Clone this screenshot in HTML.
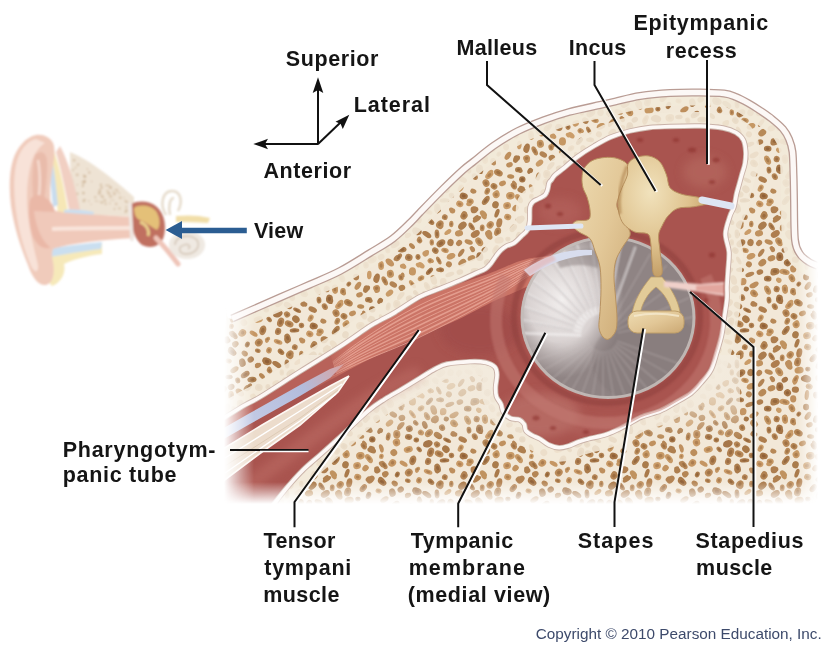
<!DOCTYPE html>
<html><head><meta charset="utf-8"><style>
html,body{margin:0;padding:0;background:#fff;}
body{width:825px;height:645px;overflow:hidden;position:relative;}
svg{position:absolute;left:0;top:0;font-family:"Liberation Sans",sans-serif;}
</style></head><body>
<svg width="825" height="645" viewBox="0 0 825 645">
<defs>
<pattern id="spong" width="150" height="130" patternUnits="userSpaceOnUse"><rect width="150" height="130" fill="#f2e8d8"/><g transform="translate(35.7 70.7) rotate(129)"><ellipse rx="4.9" ry="2.8" fill="#ae7f4f"/><ellipse cx="-2.1" cy="0.4" rx="3.5" ry="2.2" fill="#ae7f4f"/><ellipse rx="2.5" ry="1.4" fill="#8e6037" opacity="0.7"/></g><g transform="translate(46.1 64.7) rotate(157)"><ellipse rx="3.5" ry="3.5" fill="#c79965"/><ellipse cx="-1.4" cy="1.3" rx="2.5" ry="2.8" fill="#c79965"/><ellipse rx="1.8" ry="1.8" fill="#a37446" opacity="0.7"/></g><g transform="translate(23.4 61.1) rotate(23)"><ellipse rx="3.1" ry="2.2" fill="#b78857"/><ellipse cx="-0.5" cy="0.9" rx="2.2" ry="1.7" fill="#b78857"/></g><g transform="translate(45.5 74.8) rotate(103)"><ellipse rx="3.6" ry="3.3" fill="#aa7b4c"/><ellipse cx="-0.7" cy="0.3" rx="2.5" ry="2.7" fill="#aa7b4c"/></g><g transform="translate(33.4 84.0) rotate(45)"><ellipse rx="4.1" ry="2.8" fill="#c0925f"/><ellipse cx="2.4" cy="1.5" rx="2.9" ry="2.2" fill="#c0925f"/></g><g transform="translate(36.0 53.2) rotate(53)"><ellipse rx="3.9" ry="3.2" fill="#b88958"/><ellipse cx="-0.4" cy="-1.0" rx="2.7" ry="2.6" fill="#b88958"/><ellipse rx="1.9" ry="1.6" fill="#96683d" opacity="0.7"/></g><g transform="translate(26.9 89.3) rotate(146)"><ellipse rx="4.8" ry="2.2" fill="#b08050"/><ellipse cx="-0.1" cy="2.0" rx="3.4" ry="1.7" fill="#b08050"/></g><g transform="translate(40.2 94.9) rotate(128)"><ellipse rx="4.0" ry="3.3" fill="#c0915f"/><ellipse rx="2.0" ry="1.7" fill="#9d6e42" opacity="0.7"/></g><g transform="translate(24.0 79.8) rotate(80)"><ellipse rx="3.5" ry="3.4" fill="#ae7e4f"/><ellipse cx="-0.3" cy="-1.8" rx="2.5" ry="2.7" fill="#ae7e4f"/></g><g transform="translate(49.3 92.8) rotate(102)"><ellipse rx="4.7" ry="2.9" fill="#b38353"/><ellipse cx="-0.6" cy="0.3" rx="3.3" ry="2.3" fill="#b38353"/></g><g transform="translate(24.8 46.6) rotate(60)"><ellipse rx="3.5" ry="2.8" fill="#b58656"/><ellipse rx="1.8" ry="1.4" fill="#94653c" opacity="0.7"/></g><g transform="translate(29.4 38.8) rotate(97)"><ellipse rx="4.2" ry="3.4" fill="#a47446"/><ellipse cx="2.1" cy="-1.3" rx="3.0" ry="2.8" fill="#a47446"/><ellipse rx="2.1" ry="1.7" fill="#865831" opacity="0.7"/></g><g transform="translate(47.0 83.2) rotate(111)"><ellipse rx="4.6" ry="2.1" fill="#a9794a"/></g><g transform="translate(10.9 57.8) rotate(114)"><ellipse rx="3.4" ry="2.6" fill="#c99b67"/><ellipse cx="1.9" cy="0.5" rx="2.4" ry="2.1" fill="#c99b67"/><ellipse rx="1.7" ry="1.3" fill="#a47548" opacity="0.7"/></g><g transform="translate(52.5 53.4) rotate(156)"><ellipse rx="3.6" ry="2.5" fill="#c0915f"/></g><g transform="translate(32.2 97.8) rotate(94)"><ellipse rx="3.4" ry="2.4" fill="#bc8d5b"/><ellipse rx="1.7" ry="1.2" fill="#9a6b3f" opacity="0.7"/></g><g transform="translate(12.7 49.6) rotate(25)"><ellipse rx="4.5" ry="2.7" fill="#ad7d4e"/></g><g transform="translate(57.1 75.6) rotate(168)"><ellipse rx="3.9" ry="3.5" fill="#cb9d69"/><ellipse rx="2.0" ry="1.7" fill="#a67749" opacity="0.7"/></g><g transform="translate(19.0 40.1) rotate(83)"><ellipse rx="3.4" ry="2.4" fill="#b08151"/><ellipse rx="1.7" ry="1.2" fill="#906238" opacity="0.7"/></g><g transform="translate(63.8 56.0) rotate(141)"><ellipse rx="2.6" ry="3.7" fill="#b58656"/><ellipse cx="-2.2" cy="1.7" rx="1.8" ry="3.0" fill="#b58656"/><ellipse rx="1.3" ry="1.8" fill="#94653c" opacity="0.7"/></g><g transform="translate(12.3 95.7) rotate(135)"><ellipse rx="4.7" ry="3.3" fill="#ab7c4d"/><ellipse cx="-1.3" cy="-0.3" rx="3.3" ry="2.7" fill="#ab7c4d"/></g><g transform="translate(47.7 101.9) rotate(104)"><ellipse rx="4.5" ry="3.3" fill="#b88958"/><ellipse cx="0.8" cy="0.6" rx="3.2" ry="2.6" fill="#b88958"/><ellipse rx="2.3" ry="1.6" fill="#96683d" opacity="0.7"/></g><g transform="translate(60.4 65.8) rotate(170)"><ellipse rx="4.3" ry="3.7" fill="#c79966"/><ellipse cx="0.6" cy="0.8" rx="3.0" ry="2.9" fill="#c79966"/><ellipse rx="2.2" ry="1.8" fill="#a37447" opacity="0.7"/></g><g transform="translate(39.3 45.1) rotate(138)"><ellipse rx="4.8" ry="2.8" fill="#c99b68"/><ellipse cx="-2.4" cy="1.2" rx="3.4" ry="2.2" fill="#c99b68"/><ellipse rx="2.4" ry="1.4" fill="#a47548" opacity="0.7"/></g><g transform="translate(38.8 105.2) rotate(59)"><ellipse rx="4.9" ry="3.0" fill="#bd8f5d"/><ellipse cx="-1.5" cy="-1.6" rx="3.4" ry="2.4" fill="#bd8f5d"/></g><g transform="translate(65.4 78.1) rotate(128)"><ellipse rx="3.4" ry="2.8" fill="#c19260"/><ellipse cx="-0.9" cy="-0.7" rx="2.3" ry="2.2" fill="#c19260"/></g><g transform="translate(3.2 43.9) rotate(20)"><ellipse rx="2.8" ry="2.7" fill="#b18151"/><ellipse cx="2.3" cy="-0.1" rx="2.0" ry="2.1" fill="#b18151"/></g><g transform="translate(153.2 43.9) rotate(20)"><ellipse rx="2.8" ry="2.7" fill="#b18151"/><ellipse cx="2.3" cy="-0.1" rx="2.0" ry="2.1" fill="#b18151"/></g><g transform="translate(14.0 85.8) rotate(126)"><ellipse rx="3.9" ry="3.4" fill="#b28352"/><ellipse cx="-1.8" cy="1.0" rx="2.7" ry="2.7" fill="#b28352"/><ellipse rx="1.9" ry="1.7" fill="#916339" opacity="0.7"/></g><g transform="translate(25.3 104.0) rotate(148)"><ellipse rx="4.9" ry="3.1" fill="#ae7e4f"/></g><g transform="translate(68.9 68.3) rotate(48)"><ellipse rx="4.9" ry="2.7" fill="#c79966"/><ellipse cx="2.0" cy="0.6" rx="3.4" ry="2.2" fill="#c79966"/><ellipse rx="2.4" ry="1.4" fill="#a37447" opacity="0.7"/></g><g transform="translate(2.5 80.8) rotate(98)"><ellipse rx="2.7" ry="2.8" fill="#bd8e5d"/><ellipse cx="-1.2" cy="1.5" rx="1.9" ry="2.2" fill="#bd8e5d"/></g><g transform="translate(152.5 80.8) rotate(98)"><ellipse rx="2.7" ry="2.8" fill="#bd8e5d"/><ellipse cx="-1.2" cy="1.5" rx="1.9" ry="2.2" fill="#bd8e5d"/></g><g transform="translate(45.5 119.2) rotate(120)"><ellipse rx="4.6" ry="2.5" fill="#c49562"/><ellipse cx="2.3" cy="-1.1" rx="3.2" ry="2.0" fill="#c49562"/><ellipse rx="2.3" ry="1.2" fill="#a07144" opacity="0.7"/></g><g transform="translate(44.0 56.3) rotate(124)"><ellipse rx="3.1" ry="3.5" fill="#b48554"/><ellipse rx="1.6" ry="1.7" fill="#93653a" opacity="0.7"/></g><g transform="translate(29.2 111.8) rotate(54)"><ellipse rx="4.8" ry="3.3" fill="#c29461"/><ellipse rx="2.4" ry="1.7" fill="#9f7043" opacity="0.7"/></g><g transform="translate(70.7 89.6) rotate(134)"><ellipse rx="4.5" ry="3.1" fill="#b38454"/><ellipse cx="1.2" cy="1.9" rx="3.1" ry="2.5" fill="#b38454"/></g><g transform="translate(18.7 112.0) rotate(21)"><ellipse rx="4.3" ry="2.4" fill="#ba8b59"/></g><g transform="translate(9.8 74.1) rotate(16)"><ellipse rx="3.7" ry="2.9" fill="#ca9b68"/><ellipse cx="-0.9" cy="-1.0" rx="2.6" ry="2.3" fill="#ca9b68"/><ellipse rx="1.9" ry="1.5" fill="#a57548" opacity="0.7"/></g><g transform="translate(34.8 119.8) rotate(148)"><ellipse rx="3.4" ry="2.6" fill="#a67648"/></g><g transform="translate(57.9 109.1) rotate(180)"><ellipse rx="2.6" ry="2.4" fill="#b08050"/><ellipse rx="1.3" ry="1.2" fill="#906138" opacity="0.7"/></g><g transform="translate(1.3 94.0) rotate(94)"><ellipse rx="3.2" ry="2.2" fill="#bd8e5c"/><ellipse rx="1.6" ry="1.1" fill="#9a6b40" opacity="0.7"/></g><g transform="translate(151.3 94.0) rotate(94)"><ellipse rx="3.2" ry="2.2" fill="#bd8e5c"/><ellipse rx="1.6" ry="1.1" fill="#9a6b40" opacity="0.7"/></g><g transform="translate(1.5 65.4) rotate(167)"><ellipse rx="2.7" ry="2.7" fill="#b18252"/><ellipse rx="1.3" ry="1.3" fill="#916239" opacity="0.7"/></g><g transform="translate(151.5 65.4) rotate(167)"><ellipse rx="2.7" ry="2.7" fill="#b18252"/><ellipse rx="1.3" ry="1.3" fill="#916239" opacity="0.7"/></g><g transform="translate(37.3 61.3) rotate(114)"><ellipse rx="3.6" ry="2.6" fill="#bb8d5b"/><ellipse rx="1.8" ry="1.3" fill="#996b3f" opacity="0.7"/></g><g transform="translate(-2.9 50.3) rotate(26)"><ellipse rx="4.3" ry="2.0" fill="#ac7c4d"/><ellipse rx="2.2" ry="1.0" fill="#8d5e35" opacity="0.7"/></g><g transform="translate(147.1 50.3) rotate(26)"><ellipse rx="4.3" ry="2.0" fill="#ac7c4d"/><ellipse rx="2.2" ry="1.0" fill="#8d5e35" opacity="0.7"/></g><g transform="translate(57.7 87.0) rotate(107)"><ellipse rx="3.1" ry="3.6" fill="#c89a66"/><ellipse rx="1.5" ry="1.8" fill="#a47547" opacity="0.7"/></g><g transform="translate(-7.8 37.6) rotate(67)"><ellipse rx="3.3" ry="2.9" fill="#b48555"/><ellipse cx="-0.6" cy="0.9" rx="2.3" ry="2.3" fill="#b48555"/><ellipse rx="1.7" ry="1.4" fill="#93653b" opacity="0.7"/></g><g transform="translate(142.2 37.6) rotate(67)"><ellipse rx="3.3" ry="2.9" fill="#b48555"/><ellipse cx="-0.6" cy="0.9" rx="2.3" ry="2.3" fill="#b48555"/><ellipse rx="1.7" ry="1.4" fill="#93653b" opacity="0.7"/></g><g transform="translate(49.1 110.2) rotate(170)"><ellipse rx="4.6" ry="3.3" fill="#c59764"/></g><g transform="translate(20.2 71.6) rotate(90)"><ellipse rx="3.0" ry="3.5" fill="#c49663"/><ellipse cx="2.5" cy="1.2" rx="2.1" ry="2.8" fill="#c49663"/><ellipse rx="1.5" ry="1.8" fill="#a07245" opacity="0.7"/></g><g transform="translate(11.2 -7.2) rotate(125)"><ellipse rx="4.7" ry="2.1" fill="#b28353"/></g><g transform="translate(11.2 122.8) rotate(125)"><ellipse rx="4.7" ry="2.1" fill="#b28353"/></g><g transform="translate(29.9 -3.4) rotate(83)"><ellipse rx="4.4" ry="3.4" fill="#a67648"/><ellipse cx="1.1" cy="1.0" rx="3.0" ry="2.7" fill="#a67648"/><ellipse rx="2.2" ry="1.7" fill="#885932" opacity="0.7"/></g><g transform="translate(29.9 126.6) rotate(83)"><ellipse rx="4.4" ry="3.4" fill="#a67648"/><ellipse cx="1.1" cy="1.0" rx="3.0" ry="2.7" fill="#a67648"/><ellipse rx="2.2" ry="1.7" fill="#885932" opacity="0.7"/></g><g transform="translate(48.4 42.7) rotate(29)"><ellipse rx="4.6" ry="3.2" fill="#b48554"/><ellipse rx="2.3" ry="1.6" fill="#93653a" opacity="0.7"/></g><g transform="translate(77.3 80.6) rotate(71)"><ellipse rx="2.7" ry="3.2" fill="#ae7f4f"/><ellipse cx="-2.4" cy="-0.1" rx="1.9" ry="2.6" fill="#ae7f4f"/></g><g transform="translate(1.0 -3.7) rotate(158)"><ellipse rx="4.5" ry="2.9" fill="#c59764"/><ellipse cx="-0.5" cy="0.6" rx="3.1" ry="2.3" fill="#c59764"/></g><g transform="translate(1.0 126.3) rotate(158)"><ellipse rx="4.5" ry="2.9" fill="#c59764"/><ellipse cx="-0.5" cy="0.6" rx="3.1" ry="2.3" fill="#c59764"/></g><g transform="translate(151.0 -3.7) rotate(158)"><ellipse rx="4.5" ry="2.9" fill="#c59764"/><ellipse cx="-0.5" cy="0.6" rx="3.1" ry="2.3" fill="#c59764"/></g><g transform="translate(151.0 126.3) rotate(158)"><ellipse rx="4.5" ry="2.9" fill="#c59764"/><ellipse cx="-0.5" cy="0.6" rx="3.1" ry="2.3" fill="#c59764"/></g><g transform="translate(137.3 54.7) rotate(63)"><ellipse rx="2.8" ry="3.0" fill="#b68756"/><ellipse cx="-1.7" cy="0.5" rx="1.9" ry="2.4" fill="#b68756"/><ellipse rx="1.4" ry="1.5" fill="#95663c" opacity="0.7"/></g><g transform="translate(17.6 30.1) rotate(63)"><ellipse rx="4.9" ry="2.9" fill="#c49663"/><ellipse rx="2.5" ry="1.4" fill="#a07245" opacity="0.7"/></g><g transform="translate(45.4 -0.4) rotate(92)"><ellipse rx="3.2" ry="3.6" fill="#ad7d4e"/></g><g transform="translate(45.4 129.6) rotate(92)"><ellipse rx="3.2" ry="3.6" fill="#ad7d4e"/></g><g transform="translate(59.3 -3.5) rotate(108)"><ellipse rx="2.8" ry="3.6" fill="#c59764"/><ellipse rx="1.4" ry="1.8" fill="#a17246" opacity="0.7"/></g><g transform="translate(59.3 126.5) rotate(108)"><ellipse rx="2.8" ry="3.6" fill="#c59764"/><ellipse rx="1.4" ry="1.8" fill="#a17246" opacity="0.7"/></g><g transform="translate(60.7 46.5) rotate(9)"><ellipse rx="3.6" ry="2.2" fill="#b98b59"/></g><g transform="translate(130.6 62.3) rotate(111)"><ellipse rx="4.8" ry="3.3" fill="#b38454"/><ellipse rx="2.4" ry="1.7" fill="#92643a" opacity="0.7"/></g><g transform="translate(17.7 18.7) rotate(3)"><ellipse rx="3.8" ry="2.9" fill="#a8794a"/><ellipse rx="1.9" ry="1.5" fill="#895b33" opacity="0.7"/></g><g transform="translate(63.3 98.1) rotate(131)"><ellipse rx="4.5" ry="2.8" fill="#b68656"/><ellipse rx="2.3" ry="1.4" fill="#95653c" opacity="0.7"/></g><g transform="translate(9.1 113.0) rotate(42)"><ellipse rx="2.8" ry="3.3" fill="#b58555"/></g><g transform="translate(66.0 5.1) rotate(174)"><ellipse rx="2.8" ry="3.4" fill="#b98a59"/><ellipse cx="-0.2" cy="0.1" rx="1.9" ry="2.7" fill="#b98a59"/><ellipse rx="1.4" ry="1.7" fill="#97683e" opacity="0.7"/></g><g transform="translate(66.0 135.1) rotate(174)"><ellipse rx="2.8" ry="3.4" fill="#b98a59"/><ellipse cx="-0.2" cy="0.1" rx="1.9" ry="2.7" fill="#b98a59"/><ellipse rx="1.4" ry="1.7" fill="#97683e" opacity="0.7"/></g><g transform="translate(137.6 78.1) rotate(72)"><ellipse rx="4.6" ry="3.1" fill="#ab7b4c"/><ellipse cx="1.9" cy="1.4" rx="3.2" ry="2.5" fill="#ab7b4c"/><ellipse rx="2.3" ry="1.5" fill="#8c5d35" opacity="0.7"/></g><g transform="translate(-5.2 87.2) rotate(19)"><ellipse rx="2.9" ry="2.8" fill="#b68656"/><ellipse cx="0.1" cy="-0.4" rx="2.0" ry="2.2" fill="#b68656"/><ellipse rx="1.4" ry="1.4" fill="#95653c" opacity="0.7"/></g><g transform="translate(144.8 87.2) rotate(19)"><ellipse rx="2.9" ry="2.8" fill="#b68656"/><ellipse cx="0.1" cy="-0.4" rx="2.0" ry="2.2" fill="#b68656"/><ellipse rx="1.4" ry="1.4" fill="#95653c" opacity="0.7"/></g><g transform="translate(21.5 -1.8) rotate(159)"><ellipse rx="4.0" ry="2.9" fill="#ba8b59"/></g><g transform="translate(21.5 128.2) rotate(159)"><ellipse rx="4.0" ry="2.9" fill="#ba8b59"/></g><g transform="translate(-1.1 4.3) rotate(32)"><ellipse rx="3.0" ry="2.9" fill="#b88958"/></g><g transform="translate(-1.1 134.3) rotate(32)"><ellipse rx="3.0" ry="2.9" fill="#b88958"/></g><g transform="translate(148.9 4.3) rotate(32)"><ellipse rx="3.0" ry="2.9" fill="#b88958"/></g><g transform="translate(148.9 134.3) rotate(32)"><ellipse rx="3.0" ry="2.9" fill="#b88958"/></g><g transform="translate(4.1 24.9) rotate(154)"><ellipse rx="4.9" ry="2.5" fill="#bd8e5c"/><ellipse cx="0.5" cy="-0.8" rx="3.4" ry="2.0" fill="#bd8e5c"/></g><g transform="translate(154.1 24.9) rotate(154)"><ellipse rx="4.9" ry="2.5" fill="#bd8e5c"/><ellipse cx="0.5" cy="-0.8" rx="3.4" ry="2.0" fill="#bd8e5c"/></g><g transform="translate(-5.5 70.4) rotate(177)"><ellipse rx="4.8" ry="2.1" fill="#a8784a"/><ellipse cx="0.8" cy="0.2" rx="3.3" ry="1.6" fill="#a8784a"/><ellipse rx="2.4" ry="1.0" fill="#895b33" opacity="0.7"/></g><g transform="translate(144.5 70.4) rotate(177)"><ellipse rx="4.8" ry="2.1" fill="#a8784a"/><ellipse cx="0.8" cy="0.2" rx="3.3" ry="1.6" fill="#a8784a"/><ellipse rx="2.4" ry="1.0" fill="#895b33" opacity="0.7"/></g><g transform="translate(138.8 0.5) rotate(62)"><ellipse rx="4.3" ry="2.0" fill="#b78857"/><ellipse rx="2.1" ry="1.0" fill="#96673c" opacity="0.7"/></g><g transform="translate(138.8 130.5) rotate(62)"><ellipse rx="4.3" ry="2.0" fill="#b78857"/><ellipse rx="2.1" ry="1.0" fill="#96673c" opacity="0.7"/></g><g transform="translate(42.9 31.4) rotate(97)"><ellipse rx="3.3" ry="2.8" fill="#bb8d5b"/><ellipse cx="1.7" cy="-1.2" rx="2.3" ry="2.2" fill="#bb8d5b"/><ellipse rx="1.6" ry="1.4" fill="#996b3f" opacity="0.7"/></g><g transform="translate(128.1 71.4) rotate(14)"><ellipse rx="3.1" ry="3.6" fill="#b38353"/><ellipse rx="1.6" ry="1.8" fill="#92633a" opacity="0.7"/></g><g transform="translate(128.1 81.8) rotate(21)"><ellipse rx="4.5" ry="2.3" fill="#ca9c69"/><ellipse rx="2.2" ry="1.2" fill="#a57649" opacity="0.7"/></g><g transform="translate(13.8 65.9) rotate(18)"><ellipse rx="4.1" ry="3.1" fill="#a57547"/><ellipse cx="-0.9" cy="1.2" rx="2.9" ry="2.5" fill="#a57547"/><ellipse rx="2.0" ry="1.6" fill="#875831" opacity="0.7"/></g><g transform="translate(128.9 43.1) rotate(137)"><ellipse rx="4.5" ry="3.2" fill="#bc8e5c"/><ellipse cx="-0.1" cy="0.5" rx="3.1" ry="2.5" fill="#bc8e5c"/><ellipse rx="2.2" ry="1.6" fill="#9a6b40" opacity="0.7"/></g><g transform="translate(116.3 50.0) rotate(9)"><ellipse rx="2.8" ry="2.5" fill="#ad7e4e"/><ellipse rx="1.4" ry="1.2" fill="#8d5f36" opacity="0.7"/></g><g transform="translate(9.9 12.1) rotate(158)"><ellipse rx="3.4" ry="2.7" fill="#af7f4f"/></g><g transform="translate(82.1 91.9) rotate(38)"><ellipse rx="4.8" ry="3.1" fill="#a87849"/><ellipse cx="-1.8" cy="-1.2" rx="3.4" ry="2.4" fill="#a87849"/><ellipse rx="2.4" ry="1.5" fill="#895b33" opacity="0.7"/></g><g transform="translate(-4.1 59.2) rotate(46)"><ellipse rx="4.0" ry="3.4" fill="#a8794a"/></g><g transform="translate(145.9 59.2) rotate(46)"><ellipse rx="4.0" ry="3.4" fill="#a8794a"/></g><g transform="translate(34.9 29.3) rotate(81)"><ellipse rx="4.6" ry="3.0" fill="#c59764"/><ellipse cx="-1.4" cy="-0.6" rx="3.2" ry="2.4" fill="#c59764"/><ellipse rx="2.3" ry="1.5" fill="#a17246" opacity="0.7"/></g><g transform="translate(34.9 11.9) rotate(17)"><ellipse rx="4.9" ry="2.7" fill="#c69865"/><ellipse cx="-2.1" cy="0.7" rx="3.4" ry="2.2" fill="#c69865"/><ellipse rx="2.5" ry="1.4" fill="#a27346" opacity="0.7"/></g><g transform="translate(124.8 34.9) rotate(70)"><ellipse rx="4.1" ry="2.6" fill="#a8784a"/></g><g transform="translate(139.8 94.3) rotate(132)"><ellipse rx="4.2" ry="3.3" fill="#b58655"/><ellipse cx="0.9" cy="-1.9" rx="3.0" ry="2.6" fill="#b58655"/><ellipse rx="2.1" ry="1.6" fill="#94653b" opacity="0.7"/></g><g transform="translate(25.1 11.3) rotate(4)"><ellipse rx="4.5" ry="3.4" fill="#ac7d4d"/><ellipse cx="-1.4" cy="1.7" rx="3.2" ry="2.7" fill="#ac7d4d"/><ellipse rx="2.3" ry="1.7" fill="#8d5f35" opacity="0.7"/></g><g transform="translate(0.5 112.5) rotate(12)"><ellipse rx="3.2" ry="3.6" fill="#af8050"/></g><g transform="translate(150.5 112.5) rotate(12)"><ellipse rx="3.2" ry="3.6" fill="#af8050"/></g><g transform="translate(131.0 91.8) rotate(40)"><ellipse rx="3.7" ry="2.5" fill="#ad7e4e"/><ellipse rx="1.9" ry="1.3" fill="#8d5f36" opacity="0.7"/></g><g transform="translate(12.3 2.7) rotate(142)"><ellipse rx="4.3" ry="3.2" fill="#b88a58"/></g><g transform="translate(12.3 132.7) rotate(142)"><ellipse rx="4.3" ry="3.2" fill="#b88a58"/></g><g transform="translate(127.4 104.7) rotate(39)"><ellipse rx="4.5" ry="2.5" fill="#aa7a4b"/><ellipse cx="-2.4" cy="0.7" rx="3.2" ry="2.0" fill="#aa7a4b"/></g><g transform="translate(117.1 101.5) rotate(14)"><ellipse rx="4.7" ry="3.7" fill="#a67647"/><ellipse cx="-1.8" cy="-0.9" rx="3.3" ry="2.9" fill="#a67647"/><ellipse rx="2.3" ry="1.8" fill="#885931" opacity="0.7"/></g><g transform="translate(81.4 66.3) rotate(100)"><ellipse rx="2.6" ry="2.3" fill="#c99b67"/><ellipse rx="1.3" ry="1.1" fill="#a47548" opacity="0.7"/></g><g transform="translate(78.6 101.0) rotate(21)"><ellipse rx="3.1" ry="2.3" fill="#cb9d69"/><ellipse rx="1.6" ry="1.1" fill="#a67749" opacity="0.7"/></g><g transform="translate(117.5 79.2) rotate(150)"><ellipse rx="2.9" ry="2.0" fill="#c59764"/><ellipse cx="1.4" cy="-1.4" rx="2.0" ry="1.6" fill="#c59764"/><ellipse rx="1.4" ry="1.0" fill="#a17246" opacity="0.7"/></g><g transform="translate(139.1 63.8) rotate(24)"><ellipse rx="4.6" ry="3.1" fill="#b78857"/><ellipse rx="2.3" ry="1.5" fill="#96673c" opacity="0.7"/></g><g transform="translate(59.4 34.9) rotate(163)"><ellipse rx="3.3" ry="2.4" fill="#bc8d5b"/><ellipse cx="-1.1" cy="0.4" rx="2.3" ry="1.9" fill="#bc8d5b"/></g><g transform="translate(41.9 18.2) rotate(63)"><ellipse rx="4.2" ry="3.0" fill="#c29461"/><ellipse rx="2.1" ry="1.5" fill="#9f7043" opacity="0.7"/></g><g transform="translate(109.5 38.6) rotate(165)"><ellipse rx="3.3" ry="3.3" fill="#aa7a4b"/><ellipse cx="1.3" cy="0.2" rx="2.3" ry="2.6" fill="#aa7a4b"/><ellipse rx="1.7" ry="1.6" fill="#8b5c34" opacity="0.7"/></g><g transform="translate(81.1 5.5) rotate(87)"><ellipse rx="4.5" ry="2.9" fill="#c99b67"/><ellipse rx="2.3" ry="1.5" fill="#a47548" opacity="0.7"/></g><g transform="translate(81.1 135.5) rotate(87)"><ellipse rx="4.5" ry="2.9" fill="#c99b67"/><ellipse rx="2.3" ry="1.5" fill="#a47548" opacity="0.7"/></g><g transform="translate(56.7 118.7) rotate(24)"><ellipse rx="4.6" ry="3.5" fill="#a77749"/><ellipse cx="-2.4" cy="1.0" rx="3.2" ry="2.8" fill="#a77749"/></g><g transform="translate(129.5 11.2) rotate(133)"><ellipse rx="4.5" ry="2.3" fill="#a67648"/><ellipse rx="2.3" ry="1.1" fill="#885932" opacity="0.7"/></g><g transform="translate(-0.2 14.4) rotate(160)"><ellipse rx="4.6" ry="2.2" fill="#b48554"/></g><g transform="translate(149.8 14.4) rotate(160)"><ellipse rx="4.6" ry="2.2" fill="#b48554"/></g><g transform="translate(140.9 9.8) rotate(12)"><ellipse rx="3.2" ry="2.4" fill="#af8050"/><ellipse cx="-2.4" cy="0.6" rx="2.3" ry="1.9" fill="#af8050"/><ellipse rx="1.6" ry="1.2" fill="#8f6138" opacity="0.7"/></g><g transform="translate(56.9 5.0) rotate(96)"><ellipse rx="5.0" ry="2.2" fill="#c49563"/></g><g transform="translate(56.9 135.0) rotate(96)"><ellipse rx="5.0" ry="2.2" fill="#c49563"/></g><g transform="translate(100.8 36.0) rotate(132)"><ellipse rx="4.9" ry="2.2" fill="#b68656"/><ellipse cx="-0.3" cy="0.9" rx="3.4" ry="1.8" fill="#b68656"/></g><g transform="translate(81.3 57.8) rotate(69)"><ellipse rx="3.7" ry="2.1" fill="#bf905e"/><ellipse cx="2.3" cy="0.5" rx="2.6" ry="1.7" fill="#bf905e"/></g><g transform="translate(130.2 0.7) rotate(139)"><ellipse rx="2.6" ry="2.6" fill="#c59764"/><ellipse cx="-1.1" cy="-1.4" rx="1.8" ry="2.1" fill="#c59764"/><ellipse rx="1.3" ry="1.3" fill="#a17246" opacity="0.7"/></g><g transform="translate(130.2 130.7) rotate(139)"><ellipse rx="2.6" ry="2.6" fill="#c59764"/><ellipse cx="-1.1" cy="-1.4" rx="1.8" ry="2.1" fill="#c59764"/><ellipse rx="1.3" ry="1.3" fill="#a17246" opacity="0.7"/></g><g transform="translate(93.8 62.6) rotate(141)"><ellipse rx="3.4" ry="3.4" fill="#bc8e5c"/></g><g transform="translate(127.8 53.8) rotate(161)"><ellipse rx="4.9" ry="3.6" fill="#a67648"/></g><g transform="translate(72.3 49.4) rotate(3)"><ellipse rx="3.2" ry="3.1" fill="#a47446"/><ellipse rx="1.6" ry="1.6" fill="#865831" opacity="0.7"/></g><g transform="translate(133.7 20.0) rotate(72)"><ellipse rx="4.9" ry="3.1" fill="#b88958"/></g><g transform="translate(28.8 20.1) rotate(32)"><ellipse rx="2.9" ry="2.4" fill="#ca9c68"/><ellipse cx="0.4" cy="0.6" rx="2.0" ry="1.9" fill="#ca9c68"/></g><g transform="translate(108.3 59.5) rotate(167)"><ellipse rx="4.6" ry="3.2" fill="#cb9d69"/><ellipse rx="2.3" ry="1.6" fill="#a67749" opacity="0.7"/></g><g transform="translate(134.8 29.1) rotate(138)"><ellipse rx="4.4" ry="3.0" fill="#b18151"/><ellipse cx="0.2" cy="-1.8" rx="3.1" ry="2.4" fill="#b18151"/></g><g transform="translate(127.1 26.1) rotate(59)"><ellipse rx="4.4" ry="2.5" fill="#be905e"/><ellipse cx="0.2" cy="0.8" rx="3.1" ry="2.0" fill="#be905e"/><ellipse rx="2.2" ry="1.3" fill="#9b6d41" opacity="0.7"/></g><g transform="translate(92.6 72.7) rotate(126)"><ellipse rx="3.6" ry="3.5" fill="#c69764"/><ellipse cx="2.0" cy="0.5" rx="2.5" ry="2.8" fill="#c69764"/><ellipse rx="1.8" ry="1.7" fill="#a27246" opacity="0.7"/></g><g transform="translate(68.5 105.5) rotate(109)"><ellipse rx="3.7" ry="2.6" fill="#a97a4b"/><ellipse rx="1.9" ry="1.3" fill="#8a5c34" opacity="0.7"/></g><g transform="translate(119.2 59.4) rotate(49)"><ellipse rx="3.2" ry="2.2" fill="#b18252"/><ellipse rx="1.6" ry="1.1" fill="#916239" opacity="0.7"/></g><g transform="translate(103.6 73.7) rotate(30)"><ellipse rx="4.4" ry="2.2" fill="#c59663"/></g><g transform="translate(37.5 2.8) rotate(50)"><ellipse rx="3.5" ry="3.5" fill="#a77748"/><ellipse rx="1.7" ry="1.7" fill="#885a32" opacity="0.7"/></g><g transform="translate(37.5 132.8) rotate(50)"><ellipse rx="3.5" ry="3.5" fill="#a77748"/><ellipse rx="1.7" ry="1.7" fill="#885a32" opacity="0.7"/></g><g transform="translate(4.2 33.3) rotate(46)"><ellipse rx="4.2" ry="3.1" fill="#c19360"/><ellipse cx="-0.5" cy="1.1" rx="3.0" ry="2.5" fill="#c19360"/><ellipse rx="2.1" ry="1.5" fill="#9e6f43" opacity="0.7"/></g><g transform="translate(154.2 33.3) rotate(46)"><ellipse rx="4.2" ry="3.1" fill="#c19360"/><ellipse cx="-0.5" cy="1.1" rx="3.0" ry="2.5" fill="#c19360"/><ellipse rx="2.1" ry="1.5" fill="#9e6f43" opacity="0.7"/></g><g transform="translate(57.9 25.8) rotate(123)"><ellipse rx="4.5" ry="2.6" fill="#be8f5d"/></g><g transform="translate(-5.0 120.4) rotate(16)"><ellipse rx="3.8" ry="2.5" fill="#c59764"/><ellipse rx="1.9" ry="1.2" fill="#a17246" opacity="0.7"/></g><g transform="translate(145.0 120.4) rotate(16)"><ellipse rx="3.8" ry="2.5" fill="#c59764"/><ellipse rx="1.9" ry="1.2" fill="#a17246" opacity="0.7"/></g><g transform="translate(119.0 90.3) rotate(15)"><ellipse rx="2.8" ry="3.2" fill="#c69764"/><ellipse rx="1.4" ry="1.6" fill="#a27246" opacity="0.7"/></g><g transform="translate(43.2 8.9) rotate(88)"><ellipse rx="3.6" ry="3.1" fill="#bf905e"/></g><g transform="translate(65.9 29.1) rotate(105)"><ellipse rx="3.8" ry="2.7" fill="#ab7b4c"/><ellipse cx="-1.4" cy="-1.6" rx="2.7" ry="2.2" fill="#ab7b4c"/></g><g transform="translate(112.8 70.3) rotate(107)"><ellipse rx="5.0" ry="3.4" fill="#b18252"/><ellipse rx="2.5" ry="1.7" fill="#916239" opacity="0.7"/></g><g transform="translate(94.7 93.5) rotate(35)"><ellipse rx="3.3" ry="2.6" fill="#b68756"/></g><g transform="translate(85.3 83.9) rotate(162)"><ellipse rx="3.4" ry="2.8" fill="#b58655"/><ellipse cx="0.6" cy="-1.3" rx="2.4" ry="2.2" fill="#b58655"/></g><g transform="translate(121.0 18.3) rotate(145)"><ellipse rx="3.5" ry="2.6" fill="#c59764"/><ellipse rx="1.8" ry="1.3" fill="#a17246" opacity="0.7"/></g><g transform="translate(68.5 39.7) rotate(176)"><ellipse rx="3.5" ry="2.6" fill="#ad7e4e"/><ellipse cx="-1.8" cy="-1.3" rx="2.4" ry="2.1" fill="#ad7e4e"/><ellipse rx="1.7" ry="1.3" fill="#8d5f36" opacity="0.7"/></g><g transform="translate(112.5 11.4) rotate(88)"><ellipse rx="4.2" ry="3.5" fill="#c59764"/><ellipse cx="0.4" cy="0.8" rx="2.9" ry="2.8" fill="#c59764"/></g><g transform="translate(107.8 90.7) rotate(19)"><ellipse rx="2.9" ry="2.1" fill="#b78857"/><ellipse rx="1.5" ry="1.1" fill="#96673c" opacity="0.7"/></g><g transform="translate(131.8 112.4) rotate(88)"><ellipse rx="3.2" ry="2.2" fill="#c19260"/><ellipse rx="1.6" ry="1.1" fill="#9e6e43" opacity="0.7"/></g><g transform="translate(88.2 46.5) rotate(101)"><ellipse rx="4.1" ry="2.3" fill="#b78857"/><ellipse rx="2.1" ry="1.1" fill="#96673c" opacity="0.7"/></g><g transform="translate(97.3 84.5) rotate(115)"><ellipse rx="3.0" ry="2.3" fill="#a8794a"/><ellipse rx="1.5" ry="1.2" fill="#895b33" opacity="0.7"/></g><g transform="translate(96.5 52.6) rotate(59)"><ellipse rx="3.8" ry="3.6" fill="#ca9c69"/><ellipse cx="-1.0" cy="-1.2" rx="2.7" ry="2.9" fill="#ca9c69"/><ellipse rx="1.9" ry="1.8" fill="#a57649" opacity="0.7"/></g><g transform="translate(69.8 118.0) rotate(0)"><ellipse rx="4.3" ry="3.7" fill="#c69764"/><ellipse cx="1.2" cy="-0.8" rx="3.0" ry="2.9" fill="#c69764"/><ellipse rx="2.1" ry="1.8" fill="#a27246" opacity="0.7"/></g><g transform="translate(69.3 14.7) rotate(91)"><ellipse rx="3.9" ry="2.3" fill="#ca9c69"/><ellipse cx="1.8" cy="0.1" rx="2.8" ry="1.8" fill="#ca9c69"/></g><g transform="translate(108.0 105.5) rotate(149)"><ellipse rx="3.3" ry="2.3" fill="#b88958"/><ellipse cx="0.4" cy="1.1" rx="2.3" ry="1.8" fill="#b88958"/></g><g transform="translate(76.6 28.3) rotate(73)"><ellipse rx="3.2" ry="3.5" fill="#be8f5d"/><ellipse cx="2.3" cy="0.2" rx="2.2" ry="2.8" fill="#be8f5d"/><ellipse rx="1.6" ry="1.8" fill="#9b6c41" opacity="0.7"/></g><g transform="translate(112.4 24.2) rotate(52)"><ellipse rx="4.8" ry="2.1" fill="#c99b67"/><ellipse rx="2.4" ry="1.1" fill="#a47548" opacity="0.7"/></g><g transform="translate(95.2 114.6) rotate(148)"><ellipse rx="4.8" ry="2.9" fill="#a9794b"/><ellipse rx="2.4" ry="1.4" fill="#8a5b34" opacity="0.7"/></g><g transform="translate(9.0 103.3) rotate(168)"><ellipse rx="4.1" ry="3.1" fill="#c0925f"/></g><g transform="translate(-2.2 102.1) rotate(144)"><ellipse rx="3.9" ry="2.1" fill="#ca9c68"/><ellipse cx="-1.0" cy="-0.3" rx="2.7" ry="1.7" fill="#ca9c68"/></g><g transform="translate(147.8 102.1) rotate(144)"><ellipse rx="3.9" ry="2.1" fill="#ca9c68"/><ellipse cx="-1.0" cy="-0.3" rx="2.7" ry="1.7" fill="#ca9c68"/></g><g transform="translate(72.2 -0.3) rotate(151)"><ellipse rx="4.9" ry="3.5" fill="#ca9c68"/><ellipse rx="2.4" ry="1.8" fill="#a57648" opacity="0.7"/></g><g transform="translate(72.2 129.7) rotate(151)"><ellipse rx="4.9" ry="3.5" fill="#ca9c68"/><ellipse rx="2.4" ry="1.8" fill="#a57648" opacity="0.7"/></g><g transform="translate(89.5 33.1) rotate(142)"><ellipse rx="4.2" ry="2.7" fill="#c99b68"/></g><g transform="translate(108.6 46.9) rotate(11)"><ellipse rx="3.7" ry="2.9" fill="#ab7b4c"/><ellipse rx="1.9" ry="1.5" fill="#8c5d35" opacity="0.7"/></g><g transform="translate(78.9 117.0) rotate(175)"><ellipse rx="3.8" ry="2.3" fill="#ae7e4f"/><ellipse rx="1.9" ry="1.1" fill="#8e5f37" opacity="0.7"/></g><g transform="translate(137.0 104.0) rotate(86)"><ellipse rx="4.5" ry="2.4" fill="#b38454"/><ellipse rx="2.3" ry="1.2" fill="#92643a" opacity="0.7"/></g><g transform="translate(120.6 42.3) rotate(41)"><ellipse rx="2.6" ry="2.8" fill="#c49562"/><ellipse cx="1.8" cy="-0.3" rx="1.8" ry="2.2" fill="#c49562"/><ellipse rx="1.3" ry="1.4" fill="#a07144" opacity="0.7"/></g><g transform="translate(56.1 17.1) rotate(90)"><ellipse rx="3.3" ry="3.0" fill="#b18252"/></g><g transform="translate(81.1 -3.1) rotate(148)"><ellipse rx="3.5" ry="2.9" fill="#ae7e4f"/><ellipse cx="0.1" cy="-0.4" rx="2.4" ry="2.3" fill="#ae7e4f"/></g><g transform="translate(81.1 126.9) rotate(148)"><ellipse rx="3.5" ry="2.9" fill="#ae7e4f"/><ellipse cx="0.1" cy="-0.4" rx="2.4" ry="2.3" fill="#ae7e4f"/></g><g transform="translate(26.7 29.1) rotate(99)"><ellipse rx="3.2" ry="3.1" fill="#b38353"/><ellipse rx="1.6" ry="1.5" fill="#92633a" opacity="0.7"/></g><g transform="translate(79.7 40.8) rotate(118)"><ellipse rx="3.2" ry="2.1" fill="#a9794a"/><ellipse cx="-0.7" cy="-1.4" rx="2.3" ry="1.7" fill="#a9794a"/></g><g transform="translate(96.8 44.2) rotate(87)"><ellipse rx="4.2" ry="3.6" fill="#c19260"/><ellipse rx="2.1" ry="1.8" fill="#9e6e43" opacity="0.7"/></g><g transform="translate(-6.8 21.4) rotate(96)"><ellipse rx="3.5" ry="3.3" fill="#c49563"/><ellipse cx="1.6" cy="0.4" rx="2.4" ry="2.6" fill="#c49563"/></g><g transform="translate(143.2 21.4) rotate(96)"><ellipse rx="3.5" ry="3.3" fill="#c49563"/><ellipse cx="1.6" cy="0.4" rx="2.4" ry="2.6" fill="#c49563"/></g><g transform="translate(21.7 96.5) rotate(56)"><ellipse rx="4.5" ry="2.1" fill="#b08050"/><ellipse cx="-0.2" cy="0.9" rx="3.1" ry="1.7" fill="#b08050"/><ellipse rx="2.2" ry="1.0" fill="#906138" opacity="0.7"/></g><g transform="translate(22.7 119.5) rotate(71)"><ellipse rx="2.7" ry="2.3" fill="#b58555"/><ellipse cx="-1.9" cy="0.7" rx="1.9" ry="1.9" fill="#b58555"/></g><g transform="translate(92.4 102.4) rotate(72)"><ellipse rx="4.1" ry="3.2" fill="#a77849"/><ellipse cx="1.5" cy="0.9" rx="2.8" ry="2.5" fill="#a77849"/></g><g transform="translate(84.7 20.9) rotate(62)"><ellipse rx="4.9" ry="2.5" fill="#b98a58"/><ellipse cx="-0.3" cy="-0.0" rx="3.5" ry="2.0" fill="#b98a58"/><ellipse rx="2.5" ry="1.2" fill="#97683d" opacity="0.7"/></g><g transform="translate(98.6 -2.7) rotate(128)"><ellipse rx="4.6" ry="2.4" fill="#af8050"/><ellipse cx="2.0" cy="1.5" rx="3.2" ry="1.9" fill="#af8050"/><ellipse rx="2.3" ry="1.2" fill="#8f6138" opacity="0.7"/></g><g transform="translate(98.6 127.3) rotate(128)"><ellipse rx="4.6" ry="2.4" fill="#af8050"/><ellipse cx="2.0" cy="1.5" rx="3.2" ry="1.9" fill="#af8050"/><ellipse rx="2.3" ry="1.2" fill="#8f6138" opacity="0.7"/></g><g transform="translate(100.7 99.5) rotate(150)"><ellipse rx="3.3" ry="3.0" fill="#ae7e4f"/></g><g transform="translate(108.8 -2.6) rotate(14)"><ellipse rx="3.8" ry="3.5" fill="#b18252"/><ellipse rx="1.9" ry="1.8" fill="#916239" opacity="0.7"/></g><g transform="translate(108.8 127.4) rotate(14)"><ellipse rx="3.8" ry="3.5" fill="#b18252"/><ellipse rx="1.9" ry="1.8" fill="#916239" opacity="0.7"/></g><g transform="translate(48.8 24.1) rotate(126)"><ellipse rx="2.7" ry="2.1" fill="#b38454"/><ellipse rx="1.3" ry="1.1" fill="#92643a" opacity="0.7"/></g><g transform="translate(118.0 -3.0) rotate(175)"><ellipse rx="2.6" ry="2.9" fill="#b38453"/><ellipse rx="1.3" ry="1.5" fill="#92643a" opacity="0.7"/></g><g transform="translate(118.0 127.0) rotate(175)"><ellipse rx="2.6" ry="2.9" fill="#b38453"/><ellipse rx="1.3" ry="1.5" fill="#92643a" opacity="0.7"/></g><g transform="translate(76.9 18.2) rotate(102)"><ellipse rx="4.8" ry="2.8" fill="#aa7a4b"/><ellipse cx="0.8" cy="1.1" rx="3.4" ry="2.3" fill="#aa7a4b"/></g><g transform="translate(121.1 5.3) rotate(39)"><ellipse rx="3.9" ry="2.5" fill="#cb9d69"/><ellipse cx="-2.4" cy="1.7" rx="2.7" ry="2.0" fill="#cb9d69"/></g><g transform="translate(121.1 135.3) rotate(39)"><ellipse rx="3.9" ry="2.5" fill="#cb9d69"/><ellipse cx="-2.4" cy="1.7" rx="2.7" ry="2.0" fill="#cb9d69"/></g><g transform="translate(89.8 2.5) rotate(42)"><ellipse rx="5.0" ry="3.1" fill="#c39462"/></g><g transform="translate(89.8 132.5) rotate(42)"><ellipse rx="5.0" ry="3.1" fill="#c39462"/></g><g transform="translate(125.6 -6.5) rotate(61)"><ellipse rx="2.9" ry="3.2" fill="#c79966"/><ellipse cx="-0.5" cy="-1.6" rx="2.0" ry="2.5" fill="#c79966"/></g><g transform="translate(125.6 123.5) rotate(61)"><ellipse rx="2.9" ry="3.2" fill="#c79966"/><ellipse cx="-0.5" cy="-1.6" rx="2.0" ry="2.5" fill="#c79966"/></g><g transform="translate(138.0 45.4) rotate(33)"><ellipse rx="4.6" ry="3.0" fill="#af8050"/></g><g transform="translate(140.9 113.3) rotate(145)"><ellipse rx="4.8" ry="3.3" fill="#ac7d4e"/><ellipse rx="2.4" ry="1.7" fill="#8d5f36" opacity="0.7"/></g><g transform="translate(93.3 24.5) rotate(29)"><ellipse rx="4.0" ry="2.7" fill="#b28353"/></g><g transform="translate(102.8 6.1) rotate(166)"><ellipse rx="2.9" ry="2.4" fill="#c79966"/><ellipse cx="-1.3" cy="-1.3" rx="2.0" ry="1.9" fill="#c79966"/></g><g transform="translate(102.8 136.1) rotate(166)"><ellipse rx="2.9" ry="2.4" fill="#c79966"/><ellipse cx="-1.3" cy="-1.3" rx="2.0" ry="1.9" fill="#c79966"/></g><g transform="translate(101.9 27.8) rotate(68)"><ellipse rx="2.9" ry="3.4" fill="#b28353"/><ellipse cx="1.2" cy="-0.1" rx="2.0" ry="2.7" fill="#b28353"/></g><g transform="translate(90.4 13.8) rotate(76)"><ellipse rx="4.0" ry="3.5" fill="#c39562"/><ellipse cx="0.4" cy="0.7" rx="2.8" ry="2.8" fill="#c39562"/><ellipse rx="2.0" ry="1.8" fill="#9f7144" opacity="0.7"/></g><g transform="translate(101.0 17.4) rotate(166)"><ellipse rx="2.6" ry="3.2" fill="#b98a59"/><ellipse cx="-2.3" cy="1.9" rx="1.8" ry="2.6" fill="#b98a59"/><ellipse rx="1.3" ry="1.6" fill="#97683e" opacity="0.7"/></g><g transform="translate(-3.7 29.0) rotate(25)"><ellipse rx="2.6" ry="2.4" fill="#a57647"/></g><g transform="translate(146.3 29.0) rotate(25)"><ellipse rx="2.6" ry="2.4" fill="#a57647"/></g><g transform="translate(115.8 32.9) rotate(44)"><ellipse rx="3.1" ry="2.1" fill="#b08151"/><ellipse cx="-0.7" cy="0.5" rx="2.2" ry="1.7" fill="#b08151"/><ellipse rx="1.6" ry="1.1" fill="#906238" opacity="0.7"/></g><g transform="translate(119.5 110.6) rotate(44)"><ellipse rx="2.9" ry="2.5" fill="#b78857"/><ellipse cx="-1.5" cy="-1.3" rx="2.0" ry="2.0" fill="#b78857"/><ellipse rx="1.4" ry="1.2" fill="#96673c" opacity="0.7"/></g><g transform="translate(112.0 116.0) rotate(46)"><ellipse rx="3.5" ry="2.2" fill="#b78857"/></g><g transform="translate(84.0 75.0) rotate(53)"><ellipse rx="4.8" ry="2.5" fill="#b48555"/><ellipse cx="-2.0" cy="1.6" rx="3.4" ry="2.0" fill="#b48555"/><ellipse rx="2.4" ry="1.3" fill="#93653b" opacity="0.7"/></g><g transform="translate(135.3 120.6) rotate(127)"><ellipse rx="2.9" ry="3.5" fill="#af8050"/><ellipse rx="1.5" ry="1.7" fill="#8f6138" opacity="0.7"/></g><g transform="translate(102.2 119.6) rotate(176)"><ellipse rx="4.3" ry="2.8" fill="#aa7b4c"/><ellipse cx="1.9" cy="0.0" rx="3.0" ry="2.3" fill="#aa7b4c"/><ellipse rx="2.1" ry="1.4" fill="#8b5d35" opacity="0.7"/></g><g transform="translate(108.8 82.5) rotate(133)"><ellipse rx="4.0" ry="3.7" fill="#ba8b5a"/><ellipse rx="2.0" ry="1.8" fill="#98693e" opacity="0.7"/></g><g transform="translate(84.4 109.7) rotate(148)"><ellipse rx="4.5" ry="2.6" fill="#bd8e5c"/></g><g transform="translate(87.7 120.4) rotate(78)"><ellipse rx="3.0" ry="2.5" fill="#b98a59"/><ellipse rx="1.5" ry="1.3" fill="#97683e" opacity="0.7"/></g><g transform="translate(71.7 60.3) rotate(21)"><ellipse rx="4.5" ry="2.7" fill="#ae7f4f"/><ellipse cx="-0.6" cy="-2.0" rx="3.1" ry="2.2" fill="#ae7f4f"/></g></pattern><filter id="sb" x="0" y="0" width="100%" height="100%"><feGaussianBlur stdDeviation="0.6"/></filter>
<filter id="spongy" x="0" y="0" width="100%" height="100%" filterUnits="objectBoundingBox" color-interpolation-filters="sRGB">
<feTurbulence type="fractalNoise" baseFrequency="0.165" numOctaves="1" seed="5" result="n"/>
<feColorMatrix in="n" type="matrix" values="0 0 0 0 0  0 0 0 0 0  0 0 0 0 0  1 0 0 0 0" result="a"/>
<feComponentTransfer in="a" result="th1"><feFuncA type="linear" slope="16" intercept="-8.72"/></feComponentTransfer>
<feComponentTransfer in="a" result="th2"><feFuncA type="linear" slope="16" intercept="-9.20"/></feComponentTransfer>
<feComponentTransfer in="a" result="th3"><feFuncA type="linear" slope="16" intercept="-10.00"/></feComponentTransfer>
<feFlood flood-color="#dcbd95" result="c1"/><feComposite in="c1" in2="th1" operator="in" result="s1"/>
<feFlood flood-color="#c39462" result="c2"/><feComposite in="c2" in2="th2" operator="in" result="s2"/>
<feFlood flood-color="#a8753f" result="c3"/><feComposite in="c3" in2="th3" operator="in" result="s3"/>
<feMerge result="sp"><feMergeNode in="s1"/><feMergeNode in="s2"/><feMergeNode in="s3"/></feMerge>
<feGaussianBlur in="sp" stdDeviation="0.7" result="spb"/>
<feFlood flood-color="#f2e8d8" result="bg"/>
<feMerge result="m"><feMergeNode in="bg"/><feMergeNode in="spb"/></feMerge>
<feComposite in="m" in2="SourceAlpha" operator="in"/></filter>
<filter id="blur4" x="-50%" y="-50%" width="200%" height="200%"><feGaussianBlur stdDeviation="5"/></filter>
<filter id="soft" x="-10%" y="-10%" width="120%" height="120%"><feGaussianBlur stdDeviation="1"/></filter>
<linearGradient id="fadeL" x1="0" x2="1" y1="0" y2="0">
<stop offset="0" stop-color="#000"/><stop offset="1" stop-color="#fff"/></linearGradient>
<linearGradient id="fadeB" x1="0" x2="0" y1="0" y2="1">
<stop offset="0" stop-color="#fff"/><stop offset="1" stop-color="#000"/></linearGradient>
<linearGradient id="fadeR" x1="0" x2="1" y1="0" y2="0">
<stop offset="0" stop-color="#fff"/><stop offset="1" stop-color="#000"/></linearGradient>
<mask id="maskL" maskUnits="userSpaceOnUse" x="0" y="0" width="825" height="645">
<rect x="0" y="0" width="825" height="645" fill="#fff"/>
<rect x="224" y="0" width="30" height="645" fill="url(#fadeL)"/>
<rect x="0" y="0" width="224" height="645" fill="#000"/>
</mask>
<mask id="maskB" maskUnits="userSpaceOnUse" x="0" y="0" width="825" height="645">
<rect x="0" y="0" width="825" height="645" fill="#fff"/>
<rect x="0" y="482" width="825" height="22" fill="url(#fadeB)"/>
<rect x="0" y="504" width="825" height="141" fill="#000"/>
</mask>
<mask id="maskR" maskUnits="userSpaceOnUse" x="0" y="0" width="825" height="645">
<rect x="0" y="0" width="825" height="645" fill="#fff"/>
<rect x="798" y="0" width="20" height="645" fill="url(#fadeR)"/><rect x="818" y="0" width="10" height="645" fill="#000"/>
</mask>
<radialGradient id="memb" cx="0.62" cy="0.55" r="0.6">
<stop offset="0" stop-color="#928585"/><stop offset="0.7" stop-color="#a39a99"/><stop offset="1" stop-color="#b8b2ae"/></radialGradient>
<linearGradient id="membL" x1="0" x2="1" y1="0" y2="0.3">
<stop offset="0" stop-color="#f4f0ee" stop-opacity="0.95"/><stop offset="0.45" stop-color="#e6e0de" stop-opacity="0.7"/><stop offset="0.75" stop-color="#bdb5b4" stop-opacity="0"/></linearGradient>
<radialGradient id="membW" cx="0.5" cy="0.5" r="0.5">
<stop offset="0" stop-color="#f6f3f2" stop-opacity="0.97"/><stop offset="0.55" stop-color="#e6e0df" stop-opacity="0.85"/><stop offset="1" stop-color="#d0c8c7" stop-opacity="0"/></radialGradient>
<linearGradient id="mfade" gradientUnits="userSpaceOnUse" x1="305" y1="0" x2="350" y2="0"><stop offset="0" stop-color="#fff" stop-opacity="0"/><stop offset="1" stop-color="#fff" stop-opacity="1"/></linearGradient>
<mask id="muscleMask" maskUnits="userSpaceOnUse" x="0" y="0" width="825" height="645"><rect x="0" y="0" width="825" height="645" fill="url(#mfade)"/></mask>
<linearGradient id="creamV" x1="0" x2="0" y1="0" y2="1"><stop offset="0" stop-color="#f3ebde" stop-opacity="0.9"/><stop offset="0.55" stop-color="#f3ebde" stop-opacity="0.6"/><stop offset="1" stop-color="#f3ebde" stop-opacity="0"/></linearGradient>
<linearGradient id="blueG" gradientUnits="userSpaceOnUse" x1="230" y1="430" x2="342" y2="366">
<stop offset="0" stop-color="#c8cfe8"/><stop offset="0.65" stop-color="#b3bcdc"/><stop offset="1" stop-color="#d6a6a6"/></linearGradient>
<linearGradient id="ossG" x1="0" x2="1" y1="0" y2="1">
<stop offset="0" stop-color="#eedcb2"/><stop offset="0.5" stop-color="#e2c797"/><stop offset="1" stop-color="#cba873"/></linearGradient>
<radialGradient id="ossH" cx="0.35" cy="0.3" r="0.7">
<stop offset="0" stop-color="#f1e2bc"/><stop offset="0.6" stop-color="#dfc38f"/><stop offset="1" stop-color="#c49f68"/></radialGradient>
<linearGradient id="tubeG" x1="0" x2="1" y1="1" y2="0">
<stop offset="0" stop-color="#b05a52"/><stop offset="1" stop-color="#9c4540"/></linearGradient>
</defs><g mask="url(#maskL)"><g mask="url(#maskB)"><g mask="url(#maskR)"><g filter="url(#sb)"><path d="M226.0,321.0 C227.0,289.9 223.0,322.4 232.0,318.5 C241.0,314.6 267.0,303.2 280.0,297.5 C293.0,291.8 300.0,288.9 310.0,284.5 C320.0,280.1 330.0,276.2 340.0,271.0 C350.0,265.8 361.2,258.4 370.0,253.0 C378.8,247.6 386.2,243.7 393.0,238.5 C399.8,233.3 406.5,226.3 411.0,222.0 C415.5,217.7 414.7,218.0 420.0,212.5 C425.3,207.0 435.8,196.1 443.0,189.0 C450.2,181.9 458.0,174.5 463.0,170.0 C468.0,165.5 467.8,166.1 473.0,162.0 C478.2,157.9 486.5,150.7 494.0,145.5 C501.5,140.3 509.8,135.2 518.0,131.0 C526.2,126.8 534.5,123.7 543.0,120.5 C551.5,117.3 559.5,114.6 569.0,112.0 C578.5,109.4 592.3,106.7 600.0,105.0 C607.7,103.3 608.3,103.1 615.0,101.6 C621.7,100.1 630.8,97.4 640.0,96.0 C649.2,94.6 660.0,93.6 670.0,93.0 C680.0,92.4 691.0,92.4 700.0,92.5 C709.0,92.6 718.0,92.8 724.0,93.5 C730.0,94.2 732.0,95.4 736.0,97.0 C740.0,98.6 744.0,100.8 748.0,103.0 C752.0,105.2 756.0,107.8 760.0,110.5 C764.0,113.2 768.2,115.9 772.0,119.0 C775.8,122.1 780.2,125.7 783.0,129.0 C785.8,132.3 787.4,135.2 789.0,139.0 C790.6,142.8 791.8,146.0 792.5,152.0 C793.2,158.0 793.2,167.0 793.5,175.0 C793.8,183.0 793.8,189.2 794.0,200.0 C794.2,210.8 794.0,231.0 795.0,240.0 C796.0,249.0 797.7,250.3 800.0,254.0 C802.3,257.7 806.0,260.0 809.0,262.0 C812.0,264.0 814.5,265.0 818.0,266.0 C821.5,267.0 828.0,228.2 830.0,268.0 C832.0,307.8 930.7,465.5 830.0,505.0 C729.3,544.5 326.7,535.7 226.0,505.0 C125.3,474.3 225.0,352.1 226.0,321.0 Z" fill="url(#spong)"/></g><path d="M222.0,419.0 C225.8,416.7 238.7,408.7 245.0,405.0 C251.3,401.3 250.8,402.6 260.0,397.0 C269.2,391.4 286.7,379.9 300.0,371.5 C313.3,363.1 328.3,354.1 340.0,346.5 C351.7,338.9 363.3,330.3 370.0,326.0 C376.7,321.7 375.8,322.8 380.0,320.5 C384.2,318.2 388.3,316.4 395.0,312.4 C401.7,308.4 412.5,300.7 420.0,296.7 C427.5,292.7 433.3,291.3 440.0,288.6 C446.7,285.9 454.1,282.9 460.0,280.4 C465.9,277.8 471.2,275.2 475.5,273.3 C479.8,271.4 483.0,270.4 485.6,268.7 C488.2,267.0 489.2,265.5 491.0,263.3 C492.8,261.1 494.7,257.7 496.4,255.5 C498.1,253.3 499.3,251.6 501.0,250.0 C502.7,248.4 504.3,247.2 506.5,246.0 C508.7,244.8 511.6,244.6 514.0,243.0 C516.4,241.4 518.8,238.7 521.0,236.5 C523.2,234.3 526.0,232.6 527.4,230.0 C528.8,227.4 529.2,224.8 529.6,221.0 C530.0,217.2 529.4,210.2 530.0,207.0 C530.6,203.8 531.5,203.1 533.0,201.7 C534.5,200.3 537.0,199.6 539.0,198.5 C541.0,197.4 543.6,196.4 545.0,195.0 C546.4,193.6 546.8,192.0 547.5,190.0 C548.2,188.0 548.4,184.7 549.0,183.0 C549.6,181.3 550.3,181.3 551.3,180.0 C552.3,178.7 552.9,177.0 555.0,175.0 C557.1,173.0 560.3,171.0 564.0,168.0 C567.7,165.0 572.0,160.7 577.0,157.0 C582.0,153.3 588.3,149.3 594.0,146.0 C599.7,142.7 605.0,139.5 611.0,137.0 C617.0,134.5 623.5,132.6 630.0,131.0 C636.5,129.4 643.3,128.2 650.0,127.5 C656.7,126.8 661.7,126.8 670.0,126.5 C678.3,126.2 691.2,125.8 700.0,126.0 C708.8,126.2 717.0,126.9 723.0,128.0 C729.0,129.1 732.6,130.5 736.0,132.5 C739.4,134.5 741.8,136.9 743.4,140.0 C745.0,143.1 745.4,147.1 745.7,151.0 C746.0,154.9 745.6,159.6 745.0,163.4 C744.4,167.2 743.0,170.4 742.0,174.0 C741.0,177.6 739.9,181.6 739.0,185.0 C738.1,188.4 737.2,190.7 736.4,194.4 C735.6,198.1 735.1,203.4 734.0,207.0 C732.9,210.6 731.4,211.6 730.0,216.0 C728.6,220.4 725.7,227.6 725.5,233.6 C725.3,239.6 728.6,245.8 729.0,252.0 C729.4,258.2 728.3,265.3 728.0,271.0 C727.7,276.7 727.2,281.3 727.0,286.0 C726.8,290.7 727.4,293.8 727.0,299.0 C726.6,304.2 725.3,311.0 724.4,317.0 C723.5,323.0 722.9,329.2 721.7,335.0 C720.5,340.8 718.8,346.2 717.0,352.0 C715.2,357.8 713.7,364.8 711.0,370.0 C708.3,375.2 704.3,379.1 701.0,383.0 C697.7,386.9 695.2,390.0 691.0,393.3 C686.8,396.6 680.7,399.7 675.5,402.6 C670.3,405.6 665.8,408.6 660.0,411.0 C654.2,413.4 647.0,414.6 641.0,417.2 C635.0,419.8 629.7,423.7 624.0,426.5 C618.3,429.3 613.0,432.1 607.0,434.2 C601.0,436.3 592.8,437.7 588.0,439.0 C583.2,440.3 581.2,440.8 578.0,442.0 C574.8,443.2 571.7,445.0 568.5,446.0 C565.3,447.0 562.2,448.0 559.0,447.8 C555.8,447.6 552.2,446.5 549.0,445.0 C545.8,443.5 542.8,440.6 540.0,439.0 C537.2,437.4 534.4,436.7 532.0,435.3 C529.6,433.9 527.1,432.4 525.8,430.6 C524.5,428.8 525.3,426.2 524.3,424.4 C523.3,422.6 521.9,420.8 519.6,419.8 C517.3,418.8 513.0,419.5 510.3,418.2 C507.6,416.9 504.9,414.3 503.3,412.0 C501.8,409.7 502.1,406.9 501.0,404.3 C499.9,401.7 497.3,399.4 496.4,396.5 C495.5,393.6 495.5,390.6 495.6,387.0 C495.7,383.4 497.1,378.1 497.0,374.8 C496.9,371.5 496.7,369.1 494.8,367.0 C492.9,364.9 489.6,363.3 485.5,362.4 C481.4,361.5 476.4,361.3 470.0,361.6 C463.6,361.9 452.8,362.8 447.0,364.0 C441.2,365.2 439.5,366.7 435.0,369.0 C430.5,371.3 425.5,374.7 420.0,378.0 C414.5,381.3 407.8,385.5 402.0,389.0 C396.2,392.5 390.7,395.3 385.0,399.0 C379.3,402.7 375.5,404.7 368.0,411.0 C360.5,417.3 348.0,429.7 340.0,437.0 C332.0,444.3 326.2,449.5 320.0,455.0 C313.8,460.5 308.8,464.2 303.0,470.0 C297.2,475.8 290.8,483.0 285.0,490.0 C279.2,497.0 270.8,508.3 268.0,512.0" fill="none" stroke="#f2e9d9" stroke-width="28" opacity="0.88"/><clipPath id="boneclip"><path d="M226.0,321.0 C227.0,289.9 223.0,322.4 232.0,318.5 C241.0,314.6 267.0,303.2 280.0,297.5 C293.0,291.8 300.0,288.9 310.0,284.5 C320.0,280.1 330.0,276.2 340.0,271.0 C350.0,265.8 361.2,258.4 370.0,253.0 C378.8,247.6 386.2,243.7 393.0,238.5 C399.8,233.3 406.5,226.3 411.0,222.0 C415.5,217.7 414.7,218.0 420.0,212.5 C425.3,207.0 435.8,196.1 443.0,189.0 C450.2,181.9 458.0,174.5 463.0,170.0 C468.0,165.5 467.8,166.1 473.0,162.0 C478.2,157.9 486.5,150.7 494.0,145.5 C501.5,140.3 509.8,135.2 518.0,131.0 C526.2,126.8 534.5,123.7 543.0,120.5 C551.5,117.3 559.5,114.6 569.0,112.0 C578.5,109.4 592.3,106.7 600.0,105.0 C607.7,103.3 608.3,103.1 615.0,101.6 C621.7,100.1 630.8,97.4 640.0,96.0 C649.2,94.6 660.0,93.6 670.0,93.0 C680.0,92.4 691.0,92.4 700.0,92.5 C709.0,92.6 718.0,92.8 724.0,93.5 C730.0,94.2 732.0,95.4 736.0,97.0 C740.0,98.6 744.0,100.8 748.0,103.0 C752.0,105.2 756.0,107.8 760.0,110.5 C764.0,113.2 768.2,115.9 772.0,119.0 C775.8,122.1 780.2,125.7 783.0,129.0 C785.8,132.3 787.4,135.2 789.0,139.0 C790.6,142.8 791.8,146.0 792.5,152.0 C793.2,158.0 793.2,167.0 793.5,175.0 C793.8,183.0 793.8,189.2 794.0,200.0 C794.2,210.8 794.0,231.0 795.0,240.0 C796.0,249.0 797.7,250.3 800.0,254.0 C802.3,257.7 806.0,260.0 809.0,262.0 C812.0,264.0 814.5,265.0 818.0,266.0 C821.5,267.0 828.0,228.2 830.0,268.0 C832.0,307.8 930.7,465.5 830.0,505.0 C729.3,544.5 326.7,535.7 226.0,505.0 C125.3,474.3 225.0,352.1 226.0,321.0 Z"/></clipPath><path d="M232.0,318.5 C240.0,315.0 267.0,303.2 280.0,297.5 C293.0,291.8 300.0,288.9 310.0,284.5 C320.0,280.1 330.0,276.2 340.0,271.0 C350.0,265.8 361.2,258.4 370.0,253.0 C378.8,247.6 386.2,243.7 393.0,238.5 C399.8,233.3 406.5,226.3 411.0,222.0 C415.5,217.7 414.7,218.0 420.0,212.5 C425.3,207.0 435.8,196.1 443.0,189.0 C450.2,181.9 458.0,174.5 463.0,170.0 C468.0,165.5 467.8,166.1 473.0,162.0 C478.2,157.9 486.5,150.7 494.0,145.5 C501.5,140.3 509.8,135.2 518.0,131.0 C526.2,126.8 534.5,123.7 543.0,120.5 C551.5,117.3 559.5,114.6 569.0,112.0 C578.5,109.4 592.3,106.7 600.0,105.0 C607.7,103.3 608.3,103.1 615.0,101.6 C621.7,100.1 630.8,97.4 640.0,96.0 C649.2,94.6 660.0,93.6 670.0,93.0 C680.0,92.4 691.0,92.4 700.0,92.5 C709.0,92.6 718.0,92.8 724.0,93.5 C730.0,94.2 732.0,95.4 736.0,97.0 C740.0,98.6 744.0,100.8 748.0,103.0 C752.0,105.2 756.0,107.8 760.0,110.5 C764.0,113.2 768.2,115.9 772.0,119.0 C775.8,122.1 780.2,125.7 783.0,129.0 C785.8,132.3 787.4,135.2 789.0,139.0 C790.6,142.8 791.8,146.0 792.5,152.0 C793.2,158.0 793.2,167.0 793.5,175.0 C793.8,183.0 793.8,189.2 794.0,200.0 C794.2,210.8 794.0,231.0 795.0,240.0 C796.0,249.0 797.7,250.3 800.0,254.0 C802.3,257.7 806.0,260.0 809.0,262.0 C812.0,264.0 816.5,265.3 818.0,266.0" fill="none" stroke="#f2e9d9" stroke-width="26" opacity="0.92" clip-path="url(#boneclip)"/><g clip-path="url(#boneclip)"><rect x="300" y="355" width="440" height="85" fill="url(#creamV)"/></g><path d="M222.0,419.0 C227.8,416.5 238.7,408.7 245.0,405.0 C251.3,401.3 250.8,402.6 260.0,397.0 C269.2,391.4 286.7,379.9 300.0,371.5 C313.3,363.1 328.3,354.1 340.0,346.5 C351.7,338.9 363.3,330.3 370.0,326.0 C376.7,321.7 375.8,322.8 380.0,320.5 C384.2,318.2 388.3,316.4 395.0,312.4 C401.7,308.4 412.5,300.7 420.0,296.7 C427.5,292.7 433.3,291.3 440.0,288.6 C446.7,285.9 454.1,282.9 460.0,280.4 C465.9,277.8 471.2,275.2 475.5,273.3 C479.8,271.4 483.0,270.4 485.6,268.7 C488.2,267.0 489.2,265.5 491.0,263.3 C492.8,261.1 494.7,257.7 496.4,255.5 C498.1,253.3 499.3,251.6 501.0,250.0 C502.7,248.4 504.3,247.2 506.5,246.0 C508.7,244.8 511.6,244.6 514.0,243.0 C516.4,241.4 518.8,238.7 521.0,236.5 C523.2,234.3 526.0,232.6 527.4,230.0 C528.8,227.4 529.2,224.8 529.6,221.0 C530.0,217.2 529.4,210.2 530.0,207.0 C530.6,203.8 531.5,203.1 533.0,201.7 C534.5,200.3 537.0,199.6 539.0,198.5 C541.0,197.4 543.6,196.4 545.0,195.0 C546.4,193.6 546.8,192.0 547.5,190.0 C548.2,188.0 548.4,184.7 549.0,183.0 C549.6,181.3 550.3,181.3 551.3,180.0 C552.3,178.7 552.9,177.0 555.0,175.0 C557.1,173.0 560.3,171.0 564.0,168.0 C567.7,165.0 572.0,160.7 577.0,157.0 C582.0,153.3 588.3,149.3 594.0,146.0 C599.7,142.7 605.0,139.5 611.0,137.0 C617.0,134.5 623.5,132.6 630.0,131.0 C636.5,129.4 643.3,128.2 650.0,127.5 C656.7,126.8 661.7,126.8 670.0,126.5 C678.3,126.2 691.2,125.8 700.0,126.0 C708.8,126.2 717.0,126.9 723.0,128.0 C729.0,129.1 732.6,130.5 736.0,132.5 C739.4,134.5 741.8,136.9 743.4,140.0 C745.0,143.1 745.4,147.1 745.7,151.0 C746.0,154.9 745.6,159.6 745.0,163.4 C744.4,167.2 743.0,170.4 742.0,174.0 C741.0,177.6 739.9,181.6 739.0,185.0 C738.1,188.4 737.2,190.7 736.4,194.4 C735.6,198.1 735.1,203.4 734.0,207.0 C732.9,210.6 731.4,211.6 730.0,216.0 C728.6,220.4 725.7,227.6 725.5,233.6 C725.3,239.6 728.6,245.8 729.0,252.0 C729.4,258.2 728.3,265.3 728.0,271.0 C727.7,276.7 727.2,281.3 727.0,286.0 C726.8,290.7 727.4,293.8 727.0,299.0 C726.6,304.2 725.3,311.0 724.4,317.0 C723.5,323.0 722.9,329.2 721.7,335.0 C720.5,340.8 718.8,346.2 717.0,352.0 C715.2,357.8 713.7,364.8 711.0,370.0 C708.3,375.2 704.3,379.1 701.0,383.0 C697.7,386.9 695.2,390.0 691.0,393.3 C686.8,396.6 680.7,399.7 675.5,402.6 C670.3,405.6 665.8,408.6 660.0,411.0 C654.2,413.4 647.0,414.6 641.0,417.2 C635.0,419.8 629.7,423.7 624.0,426.5 C618.3,429.3 613.0,432.1 607.0,434.2 C601.0,436.3 592.8,437.7 588.0,439.0 C583.2,440.3 581.2,440.8 578.0,442.0 C574.8,443.2 571.7,445.0 568.5,446.0 C565.3,447.0 562.2,448.0 559.0,447.8 C555.8,447.6 552.2,446.5 549.0,445.0 C545.8,443.5 542.8,440.6 540.0,439.0 C537.2,437.4 534.4,436.7 532.0,435.3 C529.6,433.9 527.1,432.4 525.8,430.6 C524.5,428.8 525.3,426.2 524.3,424.4 C523.3,422.6 521.9,420.8 519.6,419.8 C517.3,418.8 513.0,419.5 510.3,418.2 C507.6,416.9 504.9,414.3 503.3,412.0 C501.8,409.7 502.1,406.9 501.0,404.3 C499.9,401.7 497.3,399.4 496.4,396.5 C495.5,393.6 495.5,390.6 495.6,387.0 C495.7,383.4 497.1,378.1 497.0,374.8 C496.9,371.5 496.7,369.1 494.8,367.0 C492.9,364.9 489.6,363.3 485.5,362.4 C481.4,361.5 476.4,361.3 470.0,361.6 C463.6,361.9 452.8,362.8 447.0,364.0 C441.2,365.2 439.5,366.7 435.0,369.0 C430.5,371.3 425.5,374.7 420.0,378.0 C414.5,381.3 407.8,385.5 402.0,389.0 C396.2,392.5 390.7,395.3 385.0,399.0 C379.3,402.7 375.5,404.7 368.0,411.0 C360.5,417.3 348.0,429.7 340.0,437.0 C332.0,444.3 326.2,449.5 320.0,455.0 C313.8,460.5 308.8,464.2 303.0,470.0 C297.2,475.8 290.8,483.0 285.0,490.0 C279.2,497.0 280.5,508.3 268.0,512.0 C255.5,515.7 219.7,527.3 210.0,512.0 C200.3,496.7 208.0,435.5 210.0,420.0 C212.0,404.5 216.2,421.5 222.0,419.0 Z" fill="#a9544f"/><clipPath id="redclip"><path d="M222.0,419.0 C227.8,416.5 238.7,408.7 245.0,405.0 C251.3,401.3 250.8,402.6 260.0,397.0 C269.2,391.4 286.7,379.9 300.0,371.5 C313.3,363.1 328.3,354.1 340.0,346.5 C351.7,338.9 363.3,330.3 370.0,326.0 C376.7,321.7 375.8,322.8 380.0,320.5 C384.2,318.2 388.3,316.4 395.0,312.4 C401.7,308.4 412.5,300.7 420.0,296.7 C427.5,292.7 433.3,291.3 440.0,288.6 C446.7,285.9 454.1,282.9 460.0,280.4 C465.9,277.8 471.2,275.2 475.5,273.3 C479.8,271.4 483.0,270.4 485.6,268.7 C488.2,267.0 489.2,265.5 491.0,263.3 C492.8,261.1 494.7,257.7 496.4,255.5 C498.1,253.3 499.3,251.6 501.0,250.0 C502.7,248.4 504.3,247.2 506.5,246.0 C508.7,244.8 511.6,244.6 514.0,243.0 C516.4,241.4 518.8,238.7 521.0,236.5 C523.2,234.3 526.0,232.6 527.4,230.0 C528.8,227.4 529.2,224.8 529.6,221.0 C530.0,217.2 529.4,210.2 530.0,207.0 C530.6,203.8 531.5,203.1 533.0,201.7 C534.5,200.3 537.0,199.6 539.0,198.5 C541.0,197.4 543.6,196.4 545.0,195.0 C546.4,193.6 546.8,192.0 547.5,190.0 C548.2,188.0 548.4,184.7 549.0,183.0 C549.6,181.3 550.3,181.3 551.3,180.0 C552.3,178.7 552.9,177.0 555.0,175.0 C557.1,173.0 560.3,171.0 564.0,168.0 C567.7,165.0 572.0,160.7 577.0,157.0 C582.0,153.3 588.3,149.3 594.0,146.0 C599.7,142.7 605.0,139.5 611.0,137.0 C617.0,134.5 623.5,132.6 630.0,131.0 C636.5,129.4 643.3,128.2 650.0,127.5 C656.7,126.8 661.7,126.8 670.0,126.5 C678.3,126.2 691.2,125.8 700.0,126.0 C708.8,126.2 717.0,126.9 723.0,128.0 C729.0,129.1 732.6,130.5 736.0,132.5 C739.4,134.5 741.8,136.9 743.4,140.0 C745.0,143.1 745.4,147.1 745.7,151.0 C746.0,154.9 745.6,159.6 745.0,163.4 C744.4,167.2 743.0,170.4 742.0,174.0 C741.0,177.6 739.9,181.6 739.0,185.0 C738.1,188.4 737.2,190.7 736.4,194.4 C735.6,198.1 735.1,203.4 734.0,207.0 C732.9,210.6 731.4,211.6 730.0,216.0 C728.6,220.4 725.7,227.6 725.5,233.6 C725.3,239.6 728.6,245.8 729.0,252.0 C729.4,258.2 728.3,265.3 728.0,271.0 C727.7,276.7 727.2,281.3 727.0,286.0 C726.8,290.7 727.4,293.8 727.0,299.0 C726.6,304.2 725.3,311.0 724.4,317.0 C723.5,323.0 722.9,329.2 721.7,335.0 C720.5,340.8 718.8,346.2 717.0,352.0 C715.2,357.8 713.7,364.8 711.0,370.0 C708.3,375.2 704.3,379.1 701.0,383.0 C697.7,386.9 695.2,390.0 691.0,393.3 C686.8,396.6 680.7,399.7 675.5,402.6 C670.3,405.6 665.8,408.6 660.0,411.0 C654.2,413.4 647.0,414.6 641.0,417.2 C635.0,419.8 629.7,423.7 624.0,426.5 C618.3,429.3 613.0,432.1 607.0,434.2 C601.0,436.3 592.8,437.7 588.0,439.0 C583.2,440.3 581.2,440.8 578.0,442.0 C574.8,443.2 571.7,445.0 568.5,446.0 C565.3,447.0 562.2,448.0 559.0,447.8 C555.8,447.6 552.2,446.5 549.0,445.0 C545.8,443.5 542.8,440.6 540.0,439.0 C537.2,437.4 534.4,436.7 532.0,435.3 C529.6,433.9 527.1,432.4 525.8,430.6 C524.5,428.8 525.3,426.2 524.3,424.4 C523.3,422.6 521.9,420.8 519.6,419.8 C517.3,418.8 513.0,419.5 510.3,418.2 C507.6,416.9 504.9,414.3 503.3,412.0 C501.8,409.7 502.1,406.9 501.0,404.3 C499.9,401.7 497.3,399.4 496.4,396.5 C495.5,393.6 495.5,390.6 495.6,387.0 C495.7,383.4 497.1,378.1 497.0,374.8 C496.9,371.5 496.7,369.1 494.8,367.0 C492.9,364.9 489.6,363.3 485.5,362.4 C481.4,361.5 476.4,361.3 470.0,361.6 C463.6,361.9 452.8,362.8 447.0,364.0 C441.2,365.2 439.5,366.7 435.0,369.0 C430.5,371.3 425.5,374.7 420.0,378.0 C414.5,381.3 407.8,385.5 402.0,389.0 C396.2,392.5 390.7,395.3 385.0,399.0 C379.3,402.7 375.5,404.7 368.0,411.0 C360.5,417.3 348.0,429.7 340.0,437.0 C332.0,444.3 326.2,449.5 320.0,455.0 C313.8,460.5 308.8,464.2 303.0,470.0 C297.2,475.8 290.8,483.0 285.0,490.0 C279.2,497.0 280.5,508.3 268.0,512.0 C255.5,515.7 219.7,527.3 210.0,512.0 C200.3,496.7 208.0,435.5 210.0,420.0 C212.0,404.5 216.2,421.5 222.0,419.0 Z"/></clipPath><g clip-path="url(#redclip)"><g filter="url(#blur4)"><ellipse cx="705" cy="172" rx="22" ry="16" fill="#c27a70" opacity="0.35"/><ellipse cx="540" cy="415" rx="40" ry="22" fill="#c07870" opacity="0.6"/><ellipse cx="610" cy="428" rx="40" ry="10" fill="#b86a64" opacity="0.5"/><ellipse cx="560" cy="212" rx="22" ry="14" fill="#b86660" opacity="0.5"/><ellipse cx="480" cy="330" rx="40" ry="25" fill="#9c4845" opacity="0.5"/></g></g><g fill="#8a2f2c" opacity="0.55" filter="url(#soft)"><ellipse cx="692" cy="150" rx="4" ry="2.5"/><ellipse cx="716" cy="160" rx="3.5" ry="2.5"/><ellipse cx="676" cy="140" rx="3" ry="2"/><ellipse cx="712" cy="182" rx="3" ry="2"/><ellipse cx="548" cy="206" rx="3" ry="2.5"/><ellipse cx="560" cy="214" rx="3" ry="2"/><ellipse cx="536" cy="418" rx="3.5" ry="2.5"/><ellipse cx="553" cy="428" rx="3" ry="2"/><ellipse cx="586" cy="432" rx="3" ry="2"/><ellipse cx="712" cy="255" rx="3" ry="2.5"/><ellipse cx="707" cy="300" rx="3" ry="2"/><ellipse cx="640" cy="140" rx="3" ry="2"/></g><g mask="url(#muscleMask)"><path d="M305.0,372.0 C308.0,366.7 321.0,362.0 330.0,356.0 C339.0,350.0 348.2,343.0 359.0,336.0 C369.8,329.0 384.8,320.0 395.0,314.0 C405.2,308.0 410.3,304.7 420.0,300.0 C429.7,295.3 441.7,290.3 453.0,286.0 C464.3,281.7 479.3,277.2 488.0,274.0 C496.7,270.8 499.7,269.2 505.0,267.0 C510.3,264.8 514.5,262.7 520.0,261.0 C525.5,259.3 532.0,257.7 538.0,257.0 C544.0,256.3 552.7,255.2 556.0,257.0 C559.3,258.8 559.8,264.7 558.0,268.0 C556.2,271.3 551.3,273.3 545.0,277.0 C538.7,280.7 529.2,285.7 520.0,290.0 C510.8,294.3 500.5,298.0 490.0,303.0 C479.5,308.0 472.0,313.0 457.0,320.0 C442.0,327.0 416.2,337.7 400.0,345.0 C383.8,352.3 371.7,358.2 360.0,364.0 C348.3,369.8 338.0,376.0 330.0,380.0 C322.0,384.0 316.2,389.3 312.0,388.0 C307.8,386.7 302.0,377.3 305.0,372.0 Z" fill="#cb7466"/><path d="M312.0,378.5 C320.0,372.3 342.0,353.6 360.0,341.3 C378.0,329.1 398.3,315.8 420.0,305.0 C441.7,294.2 470.8,284.2 490.0,276.5 C509.2,268.8 524.0,261.7 535.0,258.8 C546.0,256.0 552.5,259.3 556.0,259.4" fill="none" stroke="#eaa898" stroke-width="1.0" opacity="0.8"/><path d="M312.0,379.5 C320.0,373.6 342.0,355.8 360.0,344.0 C378.0,332.2 398.3,319.8 420.0,309.0 C441.7,298.2 470.8,287.6 490.0,279.5 C509.2,271.4 524.0,263.7 535.0,260.5 C546.0,257.3 552.5,260.4 556.0,260.3" fill="none" stroke="#eaa898" stroke-width="1.5" opacity="0.8"/><path d="M312.0,380.5 C320.0,374.9 342.0,357.9 360.0,346.7 C378.0,335.4 398.3,323.7 420.0,313.0 C441.7,302.3 470.8,291.0 490.0,282.5 C509.2,274.0 524.0,265.7 535.0,262.2 C546.0,258.6 552.5,261.4 556.0,261.2" fill="none" stroke="#eaa898" stroke-width="1.0" opacity="0.8"/><path d="M312.0,381.5 C320.0,376.1 342.0,360.1 360.0,349.3 C378.0,338.6 398.3,327.6 420.0,317.0 C441.7,306.4 470.8,294.4 490.0,285.5 C509.2,276.6 524.0,267.7 535.0,263.8 C546.0,259.9 552.5,262.4 556.0,262.1" fill="none" stroke="#eaa898" stroke-width="1.5" opacity="0.8"/><path d="M312.0,382.5 C320.0,377.4 342.0,362.2 360.0,352.0 C378.0,341.8 398.3,331.6 420.0,321.0 C441.7,310.4 470.8,297.8 490.0,288.5 C509.2,279.2 524.0,269.8 535.0,265.5 C546.0,261.2 552.5,263.4 556.0,263.0" fill="none" stroke="#eaa898" stroke-width="1.0" opacity="0.8"/><path d="M312.0,383.5 C320.0,378.7 342.0,364.4 360.0,354.7 C378.0,344.9 398.3,335.5 420.0,325.0 C441.7,314.5 470.8,301.1 490.0,291.5 C509.2,281.9 524.0,271.8 535.0,267.2 C546.0,262.6 552.5,264.4 556.0,263.9" fill="none" stroke="#eaa898" stroke-width="1.5" opacity="0.8"/><path d="M312.0,384.5 C320.0,380.0 342.0,366.6 360.0,357.3 C378.0,348.1 398.3,339.5 420.0,329.0 C441.7,318.5 470.8,304.5 490.0,294.5 C509.2,284.5 524.0,273.8 535.0,268.8 C546.0,263.9 552.5,265.5 556.0,264.8" fill="none" stroke="#eaa898" stroke-width="1.0" opacity="0.8"/><path d="M312.0,385.5 C320.0,381.2 342.0,368.8 360.0,360.0 C378.0,351.2 398.3,343.4 420.0,333.0 C441.7,322.6 470.8,307.9 490.0,297.5 C509.2,287.1 524.0,275.8 535.0,270.5 C546.0,265.2 552.5,266.5 556.0,265.7" fill="none" stroke="#eaa898" stroke-width="1.5" opacity="0.8"/><path d="M312.0,386.5 C320.0,382.5 342.0,370.9 360.0,362.7 C378.0,354.4 398.3,347.4 420.0,337.0 C441.7,326.6 470.8,311.3 490.0,300.5 C509.2,289.7 524.0,277.8 535.0,272.2 C546.0,266.5 552.5,267.5 556.0,266.6" fill="none" stroke="#eaa898" stroke-width="1.0" opacity="0.8"/></g><path d="M222.0,419.0 L260.0,397.0 L300.0,371.5 L330.0,353.0 L336.0,374.0 L300.0,390.0 L262.0,410.0 L222.0,428.0 Z" fill="#b8625a"/><path d="M222.0,429.0 L250.0,413.0 L300.0,385.0 L330.0,369.0 L344.0,364.0 L330.0,378.0 L300.0,396.0 L250.0,424.0 L222.0,440.0 Z" fill="url(#blueG)"/><path d="M218.0,452.0 L262.0,425.0 L300.0,403.0 L330.0,386.0 L349.0,376.0 L338.0,392.0 L300.0,425.0 L262.0,452.0 L222.0,482.0 Z" fill="#ecdccc" stroke="#fdf8f4" stroke-width="1.6"/><path d="M225.0,458.0 L300.0,411.0 L342.0,384.0" fill="none" stroke="#fff" stroke-width="1.4"/><path d="M225.0,466.0 L300.0,418.0 L338.0,390.0" fill="none" stroke="#d9c6b0" stroke-width="0.8"/><path d="M225.0,473.0 L300.0,421.0 L336.0,394.0" fill="none" stroke="#fff" stroke-width="1.4"/><path d="M240.0,492.0 C246.7,487.0 265.0,473.2 280.0,462.0 C295.0,450.8 313.3,436.7 330.0,425.0 C346.7,413.3 365.0,400.8 380.0,392.0 C395.0,383.2 413.3,375.3 420.0,372.0" fill="none" stroke="#be6e66" stroke-width="14" opacity="0.55" filter="url(#blur4)"/><path d="M222.0,419.0 C225.8,416.7 238.7,408.7 245.0,405.0 C251.3,401.3 250.8,402.6 260.0,397.0 C269.2,391.4 286.7,379.9 300.0,371.5 C313.3,363.1 328.3,354.1 340.0,346.5 C351.7,338.9 363.3,330.3 370.0,326.0 C376.7,321.7 375.8,322.8 380.0,320.5 C384.2,318.2 388.3,316.4 395.0,312.4 C401.7,308.4 412.5,300.7 420.0,296.7 C427.5,292.7 433.3,291.3 440.0,288.6 C446.7,285.9 454.1,282.9 460.0,280.4 C465.9,277.8 471.2,275.2 475.5,273.3 C479.8,271.4 483.0,270.4 485.6,268.7 C488.2,267.0 489.2,265.5 491.0,263.3 C492.8,261.1 494.7,257.7 496.4,255.5 C498.1,253.3 499.3,251.6 501.0,250.0 C502.7,248.4 504.3,247.2 506.5,246.0 C508.7,244.8 511.6,244.6 514.0,243.0 C516.4,241.4 518.8,238.7 521.0,236.5 C523.2,234.3 526.0,232.6 527.4,230.0 C528.8,227.4 529.2,224.8 529.6,221.0 C530.0,217.2 529.4,210.2 530.0,207.0 C530.6,203.8 531.5,203.1 533.0,201.7 C534.5,200.3 537.0,199.6 539.0,198.5 C541.0,197.4 543.6,196.4 545.0,195.0 C546.4,193.6 546.8,192.0 547.5,190.0 C548.2,188.0 548.4,184.7 549.0,183.0 C549.6,181.3 550.3,181.3 551.3,180.0 C552.3,178.7 552.9,177.0 555.0,175.0 C557.1,173.0 560.3,171.0 564.0,168.0 C567.7,165.0 572.0,160.7 577.0,157.0 C582.0,153.3 588.3,149.3 594.0,146.0 C599.7,142.7 605.0,139.5 611.0,137.0 C617.0,134.5 623.5,132.6 630.0,131.0 C636.5,129.4 643.3,128.2 650.0,127.5 C656.7,126.8 661.7,126.8 670.0,126.5 C678.3,126.2 691.2,125.8 700.0,126.0 C708.8,126.2 717.0,126.9 723.0,128.0 C729.0,129.1 732.6,130.5 736.0,132.5 C739.4,134.5 741.8,136.9 743.4,140.0 C745.0,143.1 745.4,147.1 745.7,151.0 C746.0,154.9 745.6,159.6 745.0,163.4 C744.4,167.2 743.0,170.4 742.0,174.0 C741.0,177.6 739.9,181.6 739.0,185.0 C738.1,188.4 737.2,190.7 736.4,194.4 C735.6,198.1 735.1,203.4 734.0,207.0 C732.9,210.6 731.4,211.6 730.0,216.0 C728.6,220.4 725.7,227.6 725.5,233.6 C725.3,239.6 728.6,245.8 729.0,252.0 C729.4,258.2 728.3,265.3 728.0,271.0 C727.7,276.7 727.2,281.3 727.0,286.0 C726.8,290.7 727.4,293.8 727.0,299.0 C726.6,304.2 725.3,311.0 724.4,317.0 C723.5,323.0 722.9,329.2 721.7,335.0 C720.5,340.8 718.8,346.2 717.0,352.0 C715.2,357.8 713.7,364.8 711.0,370.0 C708.3,375.2 704.3,379.1 701.0,383.0 C697.7,386.9 695.2,390.0 691.0,393.3 C686.8,396.6 680.7,399.7 675.5,402.6 C670.3,405.6 665.8,408.6 660.0,411.0 C654.2,413.4 647.0,414.6 641.0,417.2 C635.0,419.8 629.7,423.7 624.0,426.5 C618.3,429.3 613.0,432.1 607.0,434.2 C601.0,436.3 592.8,437.7 588.0,439.0 C583.2,440.3 581.2,440.8 578.0,442.0 C574.8,443.2 571.7,445.0 568.5,446.0 C565.3,447.0 562.2,448.0 559.0,447.8 C555.8,447.6 552.2,446.5 549.0,445.0 C545.8,443.5 542.8,440.6 540.0,439.0 C537.2,437.4 534.4,436.7 532.0,435.3 C529.6,433.9 527.1,432.4 525.8,430.6 C524.5,428.8 525.3,426.2 524.3,424.4 C523.3,422.6 521.9,420.8 519.6,419.8 C517.3,418.8 513.0,419.5 510.3,418.2 C507.6,416.9 504.9,414.3 503.3,412.0 C501.8,409.7 502.1,406.9 501.0,404.3 C499.9,401.7 497.3,399.4 496.4,396.5 C495.5,393.6 495.5,390.6 495.6,387.0 C495.7,383.4 497.1,378.1 497.0,374.8 C496.9,371.5 496.7,369.1 494.8,367.0 C492.9,364.9 489.6,363.3 485.5,362.4 C481.4,361.5 476.4,361.3 470.0,361.6 C463.6,361.9 452.8,362.8 447.0,364.0 C441.2,365.2 439.5,366.7 435.0,369.0 C430.5,371.3 425.5,374.7 420.0,378.0 C414.5,381.3 407.8,385.5 402.0,389.0 C396.2,392.5 390.7,395.3 385.0,399.0 C379.3,402.7 375.5,404.7 368.0,411.0 C360.5,417.3 348.0,429.7 340.0,437.0 C332.0,444.3 326.2,449.5 320.0,455.0 C313.8,460.5 308.8,464.2 303.0,470.0 C297.2,475.8 290.8,483.0 285.0,490.0 C279.2,497.0 270.8,508.3 268.0,512.0" fill="none" stroke="#c9b2a8" stroke-width="5.4"/><path d="M222.0,419.0 C225.8,416.7 238.7,408.7 245.0,405.0 C251.3,401.3 250.8,402.6 260.0,397.0 C269.2,391.4 286.7,379.9 300.0,371.5 C313.3,363.1 328.3,354.1 340.0,346.5 C351.7,338.9 363.3,330.3 370.0,326.0 C376.7,321.7 375.8,322.8 380.0,320.5 C384.2,318.2 388.3,316.4 395.0,312.4 C401.7,308.4 412.5,300.7 420.0,296.7 C427.5,292.7 433.3,291.3 440.0,288.6 C446.7,285.9 454.1,282.9 460.0,280.4 C465.9,277.8 471.2,275.2 475.5,273.3 C479.8,271.4 483.0,270.4 485.6,268.7 C488.2,267.0 489.2,265.5 491.0,263.3 C492.8,261.1 494.7,257.7 496.4,255.5 C498.1,253.3 499.3,251.6 501.0,250.0 C502.7,248.4 504.3,247.2 506.5,246.0 C508.7,244.8 511.6,244.6 514.0,243.0 C516.4,241.4 518.8,238.7 521.0,236.5 C523.2,234.3 526.0,232.6 527.4,230.0 C528.8,227.4 529.2,224.8 529.6,221.0 C530.0,217.2 529.4,210.2 530.0,207.0 C530.6,203.8 531.5,203.1 533.0,201.7 C534.5,200.3 537.0,199.6 539.0,198.5 C541.0,197.4 543.6,196.4 545.0,195.0 C546.4,193.6 546.8,192.0 547.5,190.0 C548.2,188.0 548.4,184.7 549.0,183.0 C549.6,181.3 550.3,181.3 551.3,180.0 C552.3,178.7 552.9,177.0 555.0,175.0 C557.1,173.0 560.3,171.0 564.0,168.0 C567.7,165.0 572.0,160.7 577.0,157.0 C582.0,153.3 588.3,149.3 594.0,146.0 C599.7,142.7 605.0,139.5 611.0,137.0 C617.0,134.5 623.5,132.6 630.0,131.0 C636.5,129.4 643.3,128.2 650.0,127.5 C656.7,126.8 661.7,126.8 670.0,126.5 C678.3,126.2 691.2,125.8 700.0,126.0 C708.8,126.2 717.0,126.9 723.0,128.0 C729.0,129.1 732.6,130.5 736.0,132.5 C739.4,134.5 741.8,136.9 743.4,140.0 C745.0,143.1 745.4,147.1 745.7,151.0 C746.0,154.9 745.6,159.6 745.0,163.4 C744.4,167.2 743.0,170.4 742.0,174.0 C741.0,177.6 739.9,181.6 739.0,185.0 C738.1,188.4 737.2,190.7 736.4,194.4 C735.6,198.1 735.1,203.4 734.0,207.0 C732.9,210.6 731.4,211.6 730.0,216.0 C728.6,220.4 725.7,227.6 725.5,233.6 C725.3,239.6 728.6,245.8 729.0,252.0 C729.4,258.2 728.3,265.3 728.0,271.0 C727.7,276.7 727.2,281.3 727.0,286.0 C726.8,290.7 727.4,293.8 727.0,299.0 C726.6,304.2 725.3,311.0 724.4,317.0 C723.5,323.0 722.9,329.2 721.7,335.0 C720.5,340.8 718.8,346.2 717.0,352.0 C715.2,357.8 713.7,364.8 711.0,370.0 C708.3,375.2 704.3,379.1 701.0,383.0 C697.7,386.9 695.2,390.0 691.0,393.3 C686.8,396.6 680.7,399.7 675.5,402.6 C670.3,405.6 665.8,408.6 660.0,411.0 C654.2,413.4 647.0,414.6 641.0,417.2 C635.0,419.8 629.7,423.7 624.0,426.5 C618.3,429.3 613.0,432.1 607.0,434.2 C601.0,436.3 592.8,437.7 588.0,439.0 C583.2,440.3 581.2,440.8 578.0,442.0 C574.8,443.2 571.7,445.0 568.5,446.0 C565.3,447.0 562.2,448.0 559.0,447.8 C555.8,447.6 552.2,446.5 549.0,445.0 C545.8,443.5 542.8,440.6 540.0,439.0 C537.2,437.4 534.4,436.7 532.0,435.3 C529.6,433.9 527.1,432.4 525.8,430.6 C524.5,428.8 525.3,426.2 524.3,424.4 C523.3,422.6 521.9,420.8 519.6,419.8 C517.3,418.8 513.0,419.5 510.3,418.2 C507.6,416.9 504.9,414.3 503.3,412.0 C501.8,409.7 502.1,406.9 501.0,404.3 C499.9,401.7 497.3,399.4 496.4,396.5 C495.5,393.6 495.5,390.6 495.6,387.0 C495.7,383.4 497.1,378.1 497.0,374.8 C496.9,371.5 496.7,369.1 494.8,367.0 C492.9,364.9 489.6,363.3 485.5,362.4 C481.4,361.5 476.4,361.3 470.0,361.6 C463.6,361.9 452.8,362.8 447.0,364.0 C441.2,365.2 439.5,366.7 435.0,369.0 C430.5,371.3 425.5,374.7 420.0,378.0 C414.5,381.3 407.8,385.5 402.0,389.0 C396.2,392.5 390.7,395.3 385.0,399.0 C379.3,402.7 375.5,404.7 368.0,411.0 C360.5,417.3 348.0,429.7 340.0,437.0 C332.0,444.3 326.2,449.5 320.0,455.0 C313.8,460.5 308.8,464.2 303.0,470.0 C297.2,475.8 290.8,483.0 285.0,490.0 C279.2,497.0 270.8,508.3 268.0,512.0" fill="none" stroke="#fdf8f6" stroke-width="3.6"/><path d="M232.0,318.5 C240.0,315.0 267.0,303.2 280.0,297.5 C293.0,291.8 300.0,288.9 310.0,284.5 C320.0,280.1 330.0,276.2 340.0,271.0 C350.0,265.8 361.2,258.4 370.0,253.0 C378.8,247.6 386.2,243.7 393.0,238.5 C399.8,233.3 406.5,226.3 411.0,222.0 C415.5,217.7 414.7,218.0 420.0,212.5 C425.3,207.0 435.8,196.1 443.0,189.0 C450.2,181.9 458.0,174.5 463.0,170.0 C468.0,165.5 467.8,166.1 473.0,162.0 C478.2,157.9 486.5,150.7 494.0,145.5 C501.5,140.3 509.8,135.2 518.0,131.0 C526.2,126.8 534.5,123.7 543.0,120.5 C551.5,117.3 559.5,114.6 569.0,112.0 C578.5,109.4 592.3,106.7 600.0,105.0 C607.7,103.3 608.3,103.1 615.0,101.6 C621.7,100.1 630.8,97.4 640.0,96.0 C649.2,94.6 660.0,93.6 670.0,93.0 C680.0,92.4 691.0,92.4 700.0,92.5 C709.0,92.6 718.0,92.8 724.0,93.5 C730.0,94.2 732.0,95.4 736.0,97.0 C740.0,98.6 744.0,100.8 748.0,103.0 C752.0,105.2 756.0,107.8 760.0,110.5 C764.0,113.2 768.2,115.9 772.0,119.0 C775.8,122.1 780.2,125.7 783.0,129.0 C785.8,132.3 787.4,135.2 789.0,139.0 C790.6,142.8 791.8,146.0 792.5,152.0 C793.2,158.0 793.2,167.0 793.5,175.0 C793.8,183.0 793.8,189.2 794.0,200.0 C794.2,210.8 794.0,231.0 795.0,240.0 C796.0,249.0 797.7,250.3 800.0,254.0 C802.3,257.7 806.0,260.0 809.0,262.0 C812.0,264.0 816.5,265.3 818.0,266.0" fill="none" stroke="#b99c94" stroke-width="8"/><path d="M232.0,318.5 C240.0,315.0 267.0,303.2 280.0,297.5 C293.0,291.8 300.0,288.9 310.0,284.5 C320.0,280.1 330.0,276.2 340.0,271.0 C350.0,265.8 361.2,258.4 370.0,253.0 C378.8,247.6 386.2,243.7 393.0,238.5 C399.8,233.3 406.5,226.3 411.0,222.0 C415.5,217.7 414.7,218.0 420.0,212.5 C425.3,207.0 435.8,196.1 443.0,189.0 C450.2,181.9 458.0,174.5 463.0,170.0 C468.0,165.5 467.8,166.1 473.0,162.0 C478.2,157.9 486.5,150.7 494.0,145.5 C501.5,140.3 509.8,135.2 518.0,131.0 C526.2,126.8 534.5,123.7 543.0,120.5 C551.5,117.3 559.5,114.6 569.0,112.0 C578.5,109.4 592.3,106.7 600.0,105.0 C607.7,103.3 608.3,103.1 615.0,101.6 C621.7,100.1 630.8,97.4 640.0,96.0 C649.2,94.6 660.0,93.6 670.0,93.0 C680.0,92.4 691.0,92.4 700.0,92.5 C709.0,92.6 718.0,92.8 724.0,93.5 C730.0,94.2 732.0,95.4 736.0,97.0 C740.0,98.6 744.0,100.8 748.0,103.0 C752.0,105.2 756.0,107.8 760.0,110.5 C764.0,113.2 768.2,115.9 772.0,119.0 C775.8,122.1 780.2,125.7 783.0,129.0 C785.8,132.3 787.4,135.2 789.0,139.0 C790.6,142.8 791.8,146.0 792.5,152.0 C793.2,158.0 793.2,167.0 793.5,175.0 C793.8,183.0 793.8,189.2 794.0,200.0 C794.2,210.8 794.0,231.0 795.0,240.0 C796.0,249.0 797.7,250.3 800.0,254.0 C802.3,257.7 806.0,260.0 809.0,262.0 C812.0,264.0 816.5,265.3 818.0,266.0" fill="none" stroke="#fcf8f6" stroke-width="5.4"/></g></g></g><g clip-path="url(#redclip)"><path d="M705.7,276.5 L709.8,286.0 L713.0,296.0 L715.0,306.1 L715.9,316.4 L715.8,326.7 L714.5,337.0 L712.1,347.1 L708.7,356.9 L704.2,366.4 L698.8,375.3 L692.4,383.8 L685.1,391.5 L677.1,398.6 L668.3,404.9 L658.9,410.3 L649.0,414.8 L638.6,418.4 L627.9,420.9 L617.0,422.5 L606.0,423.0 L595.0,422.5 L584.1,420.9 L573.4,418.4 L563.0,414.8 L553.1,410.3 L543.7,404.9 L534.9,398.6 L526.9,391.5 L519.6,383.8 L513.2,375.3 L507.8,366.4 L503.3,356.9 L499.9,347.1 L497.5,337.0 L496.2,326.7 L496.1,316.4 L497.0,306.1 L499.0,296.0 L502.2,286.0 L506.3,276.5" fill="none" stroke="#c47c74" stroke-width="12" opacity="0.5" filter="url(#soft)"/><ellipse cx="607" cy="317" rx="93" ry="86" fill="none" stroke="#8e3f3d" stroke-width="6" opacity="0.55" filter="url(#soft)"/></g><clipPath id="mclip"><ellipse cx="608" cy="317.5" rx="87" ry="81"/></clipPath><ellipse cx="608" cy="317.5" rx="87" ry="81" fill="#8f8484"/><g clip-path="url(#mclip)"><ellipse cx="562" cy="300" rx="62" ry="78" fill="url(#membW)"/><ellipse cx="652" cy="360" rx="60" ry="45" fill="#7f7373" opacity="0.35" filter="url(#soft)"/><path d="M581.0,335.2 L508.1,332.7 M581.4,331.8 L509.7,317.9 M582.3,328.5 L513.7,303.5 M583.8,325.3 L519.9,289.9 M585.7,322.5 L528.1,277.5 M588.0,319.9 L538.2,266.5 M590.7,317.8 L549.9,257.2 M593.7,316.1 L562.9,249.9 M596.9,314.9 L576.8,244.7 M600.3,314.2 L591.4,241.7 M603.8,314.0 L606.3,241.1 M607.2,314.4 L621.1,242.7 M610.5,315.3 L635.5,246.7" stroke="#fbfafa" stroke-width="2.4" opacity="0.6" filter="url(#soft)"/><path d="M573.5,330.5 L509.6,318.7 M574.7,326.0 L513.4,304.3 M576.6,321.7 L519.5,290.7 M579.2,317.7 L527.6,278.2 M582.3,314.2 L537.6,267.1 M586.0,311.3 L549.2,257.7 M590.1,308.9 L562.1,250.3 M594.5,307.2 L576.0,244.9 M599.1,306.3 L590.6,241.8 M603.8,306.0 L605.5,241.0 M608.5,306.5 L620.3,242.6 M613.0,307.7 L634.7,246.4" stroke="#a49a9a" stroke-width="1.6" opacity="0.45" filter="url(#soft)"/><path d="M617.1,341.1 L692.3,368.5 M616.0,343.5 L685.3,383.5 M614.5,345.6 L675.8,397.1 M612.6,347.5 L664.1,408.8 M610.5,349.0 L650.5,418.3 M608.1,350.1 L635.5,425.3 M605.6,350.8 L619.5,429.6 M603.0,351.0 L603.0,431.0 M600.4,350.8 L586.5,429.6 M597.9,350.1 L570.5,425.3 M595.5,349.0 L555.5,418.3 M593.4,347.5 L541.9,408.8 M591.5,345.6 L530.2,397.1 M590.0,343.5 L520.7,383.5 M588.9,341.1 L513.7,368.5 M588.2,338.6 L509.4,352.5 M610.5,323.0 L650.5,253.7 M613.0,324.9 L666.6,265.4 M615.1,327.2 L679.9,280.2 M616.7,329.9 L689.8,297.4 M617.7,332.9 L695.9,316.2" stroke="#c9c1c0" stroke-width="1.4" opacity="0.35" filter="url(#soft)"/><path d="M555,258 Q585,244 600,252 L598,268 Q580,262 560,268 Z" fill="#8a8080" opacity="0.5" filter="url(#soft)"/></g><ellipse cx="608" cy="317.5" rx="86" ry="80" fill="none" stroke="#c4bdb9" stroke-width="3" opacity="0.9"/><path d="M582.0,178.0 C582.2,174.8 582.3,171.5 584.0,168.6 C585.7,165.7 588.6,162.5 592.0,160.7 C595.4,158.8 600.3,157.9 604.5,157.5 C608.7,157.1 613.2,157.3 617.0,158.4 C620.8,159.5 625.0,161.2 627.0,164.0 C629.0,166.8 629.3,171.1 629.0,175.0 C628.7,178.9 626.7,184.0 625.0,187.7 C623.3,191.4 620.3,193.8 619.0,197.0 C617.7,200.2 616.2,203.2 617.0,207.0 C617.8,210.8 621.8,216.1 623.6,219.5 C625.4,222.9 626.9,224.8 628.0,227.5 C629.1,230.2 631.0,232.0 630.0,235.4 C629.0,238.8 624.4,243.7 622.0,248.0 C619.6,252.3 617.0,256.2 615.7,261.0 C614.4,265.8 614.0,270.5 614.0,276.8 C614.0,283.1 615.2,292.1 615.7,299.0 C616.2,305.9 617.0,312.7 617.0,318.0 C617.0,323.3 617.0,327.5 615.7,331.0 C614.4,334.5 611.1,338.0 609.0,339.0 C606.9,340.0 604.7,338.9 603.0,337.0 C601.3,335.1 599.5,331.9 599.0,327.7 C598.5,323.5 599.7,318.1 600.0,311.7 C600.3,305.3 601.0,296.9 601.0,289.5 C601.0,282.1 601.0,273.4 600.0,267.0 C599.0,260.6 596.7,255.7 595.0,251.0 C593.3,246.3 592.7,241.8 590.0,238.6 C587.3,235.4 581.9,234.1 579.0,232.0 C576.1,229.9 573.2,227.8 572.7,226.0 C572.2,224.2 573.4,222.1 576.0,221.0 C578.6,219.9 586.3,221.3 588.6,219.5 C590.9,217.7 590.3,213.8 590.0,210.0 C589.7,206.2 588.2,200.7 587.0,197.0 C585.8,193.3 583.8,190.9 583.0,187.7 C582.2,184.5 581.8,181.2 582.0,178.0 Z" fill="url(#ossG)" stroke="#b89260" stroke-width="1"/><path d="M628.0,164.0 C629.4,161.1 632.5,158.8 636.0,157.5 C639.5,156.2 645.0,155.2 649.0,156.0 C653.0,156.8 657.1,158.8 660.0,162.0 C662.9,165.2 664.8,170.7 666.5,175.0 C668.2,179.3 667.6,184.5 670.0,187.7 C672.4,190.9 676.5,192.4 681.0,194.0 C685.5,195.6 692.2,196.0 697.0,197.0 C701.8,198.0 707.7,198.9 709.5,200.0 C711.3,201.1 710.6,202.5 708.0,203.6 C705.4,204.7 698.6,206.0 693.6,206.8 C688.6,207.6 682.0,206.9 677.7,208.4 C673.4,209.9 670.6,213.1 668.0,216.0 C665.4,218.9 663.6,222.8 662.0,226.0 C660.4,229.2 658.9,231.2 658.6,235.4 C658.3,239.6 659.4,244.6 660.0,251.0 C660.6,257.4 663.0,269.6 662.0,273.6 C661.0,277.6 655.7,277.1 654.0,275.0 C652.3,272.9 652.6,266.5 652.0,261.0 C651.4,255.5 651.4,246.3 650.6,241.8 C649.9,237.3 650.1,235.4 647.5,233.8 C644.9,232.2 638.7,233.6 634.7,232.0 C630.7,230.4 626.2,227.2 623.6,224.0 C621.0,220.8 619.9,217.0 619.0,213.0 C618.1,209.0 617.5,204.2 618.0,200.0 C618.5,195.8 620.4,191.9 622.0,187.7 C623.6,183.5 626.4,178.9 627.4,175.0 C628.4,171.1 626.6,166.9 628.0,164.0 Z" fill="url(#ossH)" stroke="#b89260" stroke-width="1"/><path d="M627,166 C621,180 618,198 620,214" stroke="#a87a45" stroke-width="3" fill="none" opacity="0.6" filter="url(#soft)"/><path d="M651,277 C641,289 634,301 632,314 L640,314 C642,303 648,293 656,287 C664,293 670,303 672,313 L680,312 C678,300 671,288 662,277 Z" fill="#e2cb98" stroke="#bf9e68" stroke-width="0.8"/><rect x="628" y="311" width="56" height="22" rx="9" fill="url(#ossG)" stroke="#bf9e68" stroke-width="1"/><path d="M634,316 C648,313 664,313 679,316" stroke="#f5ead0" stroke-width="2" fill="none" opacity="0.8"/><path d="M527,228 L581,226" stroke="#dfe6f4" stroke-width="5" stroke-linecap="round"/><path d="M524,270 Q556,248 592,250 L592,255 Q560,256 530,276 Z" fill="#d8ddee"/><path d="M524,270 Q540,259 552,254 L556,260 Q542,266 530,276 Z" fill="#e4b8b8" opacity="0.7" filter="url(#soft)"/><path d="M702,200 L731,206" stroke="#dde4f2" stroke-width="7" stroke-linecap="round"/><g filter="url(#soft)"><path d="M664,281 L700,284 L724,282 L724,296 L700,292 L664,287 Z" fill="#f0d0ca"/><path d="M696,285.5 L724,284 L724,294 L696,290.5 Z" fill="#dc948c" opacity="0.7"/></g><path d="M487.0,61.0 L487.0,85.0 L600.7,185.0" transform="translate(1.6,0.8)" fill="none" stroke="#fff" stroke-width="2.4"/><path d="M487.0,61.0 L487.0,85.0 L600.7,185.0" fill="none" stroke="#111" stroke-width="2"/><path d="M594.5,61.0 L594.5,85.0 L655.4,191.0" transform="translate(1.6,0.8)" fill="none" stroke="#fff" stroke-width="2.4"/><path d="M594.5,61.0 L594.5,85.0 L655.4,191.0" fill="none" stroke="#111" stroke-width="2"/><path d="M707.0,60.0 L707.0,164.0" transform="translate(1.6,0.8)" fill="none" stroke="#fff" stroke-width="2.4"/><path d="M707.0,60.0 L707.0,164.0" fill="none" stroke="#111" stroke-width="2"/><path d="M614.5,527.0 L614.5,502.0 L643.3,328.3" transform="translate(1.6,0.8)" fill="none" stroke="#fff" stroke-width="2.4"/><path d="M614.5,527.0 L614.5,502.0 L643.3,328.3" fill="none" stroke="#111" stroke-width="2"/><path d="M753.5,527.0 L753.5,347.0 L690.0,292.0" transform="translate(1.6,0.8)" fill="none" stroke="#fff" stroke-width="2.4"/><path d="M753.5,527.0 L753.5,347.0 L690.0,292.0" fill="none" stroke="#111" stroke-width="2"/><path d="M458.2,527.3 L458.2,503.6 L545.3,332.7" transform="translate(1.6,0.8)" fill="none" stroke="#fff" stroke-width="2.4"/><path d="M458.2,527.3 L458.2,503.6 L545.3,332.7" fill="none" stroke="#111" stroke-width="2"/><path d="M294.5,527.3 L294.5,502.0 L418.7,330.0" transform="translate(1.6,0.8)" fill="none" stroke="#fff" stroke-width="2.4"/><path d="M294.5,527.3 L294.5,502.0 L418.7,330.0" fill="none" stroke="#111" stroke-width="2"/><path d="M230.0,450.0 L308.5,450.0" fill="none" stroke="#111" stroke-width="2"/><path d="M260,451.5 L308.5,451.5" stroke="#fff" stroke-width="1.5"/>
<g filter="url(#soft)">
<path d="M70,152 C90,160 115,180 134,197 L134,217 C110,215 90,215 75,216 C72,200 70,175 70,152 Z" fill="#eee3d4"/>
<circle cx="99.1" cy="193.4" r="1.3" fill="#c4a884" opacity="0.55"/><circle cx="99.9" cy="192.3" r="1.1" fill="#c4a884" opacity="0.55"/><circle cx="83.1" cy="184.6" r="1.1" fill="#c4a884" opacity="0.55"/><circle cx="119.6" cy="193.2" r="0.8" fill="#c4a884" opacity="0.55"/><circle cx="77.4" cy="193.8" r="1.2" fill="#c4a884" opacity="0.55"/><circle cx="74.5" cy="199.9" r="1.4" fill="#c4a884" opacity="0.55"/><circle cx="111.2" cy="200.0" r="0.7" fill="#c4a884" opacity="0.55"/><circle cx="72.9" cy="180.6" r="0.6" fill="#c4a884" opacity="0.55"/><circle cx="83.4" cy="174.9" r="0.6" fill="#c4a884" opacity="0.55"/><circle cx="99.8" cy="190.3" r="1.3" fill="#c4a884" opacity="0.55"/><circle cx="103.1" cy="197.4" r="1.0" fill="#c4a884" opacity="0.55"/><circle cx="111.7" cy="196.5" r="0.8" fill="#c4a884" opacity="0.55"/><circle cx="131.9" cy="213.9" r="1.3" fill="#c4a884" opacity="0.55"/><circle cx="114.5" cy="194.7" r="0.8" fill="#c4a884" opacity="0.55"/><circle cx="89.3" cy="172.5" r="1.2" fill="#c4a884" opacity="0.55"/><circle cx="96.0" cy="200.9" r="0.9" fill="#c4a884" opacity="0.55"/><circle cx="129.5" cy="211.1" r="0.6" fill="#c4a884" opacity="0.55"/><circle cx="84.6" cy="199.7" r="1.0" fill="#c4a884" opacity="0.55"/><circle cx="130.8" cy="205.0" r="0.7" fill="#c4a884" opacity="0.55"/><circle cx="109.8" cy="203.4" r="0.8" fill="#c4a884" opacity="0.55"/><circle cx="77.2" cy="174.8" r="1.4" fill="#c4a884" opacity="0.55"/><circle cx="117.5" cy="192.3" r="0.8" fill="#c4a884" opacity="0.55"/><circle cx="78.1" cy="164.6" r="1.2" fill="#c4a884" opacity="0.55"/><circle cx="82.7" cy="186.2" r="1.0" fill="#c4a884" opacity="0.55"/><circle cx="83.4" cy="192.8" r="0.7" fill="#c4a884" opacity="0.55"/><circle cx="110.6" cy="187.8" r="0.9" fill="#c4a884" opacity="0.55"/><circle cx="84.8" cy="176.7" r="1.4" fill="#c4a884" opacity="0.55"/><circle cx="120.2" cy="197.7" r="1.3" fill="#c4a884" opacity="0.55"/><circle cx="84.6" cy="181.1" r="1.3" fill="#c4a884" opacity="0.55"/><circle cx="110.5" cy="187.4" r="1.4" fill="#c4a884" opacity="0.55"/><circle cx="84.8" cy="176.3" r="1.2" fill="#c4a884" opacity="0.55"/><circle cx="91.7" cy="181.5" r="0.7" fill="#c4a884" opacity="0.55"/><circle cx="77.4" cy="184.8" r="0.8" fill="#c4a884" opacity="0.55"/><circle cx="108.1" cy="192.6" r="1.0" fill="#c4a884" opacity="0.55"/><circle cx="129.5" cy="205.6" r="1.1" fill="#c4a884" opacity="0.55"/><circle cx="124.0" cy="197.6" r="0.7" fill="#c4a884" opacity="0.55"/><circle cx="126.5" cy="209.7" r="0.8" fill="#c4a884" opacity="0.55"/><circle cx="83.4" cy="193.1" r="1.4" fill="#c4a884" opacity="0.55"/><circle cx="83.8" cy="200.9" r="1.3" fill="#c4a884" opacity="0.55"/><circle cx="108.2" cy="193.9" r="0.7" fill="#c4a884" opacity="0.55"/><circle cx="74.3" cy="199.0" r="0.8" fill="#c4a884" opacity="0.55"/><circle cx="114.3" cy="193.3" r="1.3" fill="#c4a884" opacity="0.55"/><circle cx="107.8" cy="190.5" r="0.7" fill="#c4a884" opacity="0.55"/><circle cx="115.2" cy="189.8" r="0.8" fill="#c4a884" opacity="0.55"/><circle cx="105.6" cy="203.9" r="1.1" fill="#c4a884" opacity="0.55"/><circle cx="88.8" cy="201.1" r="0.8" fill="#c4a884" opacity="0.55"/><circle cx="73.0" cy="169.9" r="1.0" fill="#c4a884" opacity="0.55"/><circle cx="75.6" cy="167.6" r="0.9" fill="#c4a884" opacity="0.55"/><circle cx="106.3" cy="185.4" r="0.9" fill="#c4a884" opacity="0.55"/><circle cx="125.5" cy="212.1" r="1.1" fill="#c4a884" opacity="0.55"/><circle cx="113.5" cy="200.3" r="0.7" fill="#c4a884" opacity="0.55"/><circle cx="74.1" cy="160.2" r="1.3" fill="#c4a884" opacity="0.55"/><circle cx="114.1" cy="209.0" r="0.6" fill="#c4a884" opacity="0.55"/><circle cx="110.2" cy="196.4" r="1.2" fill="#c4a884" opacity="0.55"/><circle cx="91.1" cy="204.4" r="0.7" fill="#c4a884" opacity="0.55"/><circle cx="104.8" cy="200.6" r="1.3" fill="#c4a884" opacity="0.55"/><circle cx="116.2" cy="204.0" r="1.2" fill="#c4a884" opacity="0.55"/><circle cx="126.9" cy="202.2" r="1.1" fill="#c4a884" opacity="0.55"/><circle cx="126.1" cy="210.4" r="0.9" fill="#c4a884" opacity="0.55"/><circle cx="119.4" cy="208.4" r="1.1" fill="#c4a884" opacity="0.55"/><circle cx="109.5" cy="193.6" r="1.1" fill="#c4a884" opacity="0.55"/><circle cx="108.5" cy="185.6" r="1.1" fill="#c4a884" opacity="0.55"/><circle cx="131.6" cy="212.2" r="1.2" fill="#c4a884" opacity="0.55"/><circle cx="95.3" cy="197.2" r="1.1" fill="#c4a884" opacity="0.55"/><circle cx="98.4" cy="201.4" r="0.7" fill="#c4a884" opacity="0.55"/><circle cx="117.0" cy="190.1" r="1.1" fill="#c4a884" opacity="0.55"/><circle cx="100.9" cy="184.8" r="1.2" fill="#c4a884" opacity="0.55"/><circle cx="101.8" cy="196.1" r="1.3" fill="#c4a884" opacity="0.55"/><circle cx="87.3" cy="169.1" r="0.8" fill="#c4a884" opacity="0.55"/><circle cx="112.7" cy="191.1" r="0.7" fill="#c4a884" opacity="0.55"/><circle cx="126.3" cy="207.0" r="1.0" fill="#c4a884" opacity="0.55"/><circle cx="125.5" cy="201.0" r="1.1" fill="#c4a884" opacity="0.55"/><circle cx="83.9" cy="182.0" r="1.2" fill="#c4a884" opacity="0.55"/><circle cx="126.9" cy="210.8" r="0.9" fill="#c4a884" opacity="0.55"/><circle cx="107.0" cy="190.6" r="0.7" fill="#c4a884" opacity="0.55"/><circle cx="101.8" cy="202.4" r="1.3" fill="#c4a884" opacity="0.55"/><circle cx="114.7" cy="208.9" r="0.8" fill="#c4a884" opacity="0.55"/><circle cx="82.1" cy="181.9" r="0.8" fill="#c4a884" opacity="0.55"/><circle cx="84.8" cy="181.9" r="1.1" fill="#c4a884" opacity="0.55"/><circle cx="101.6" cy="187.6" r="1.3" fill="#c4a884" opacity="0.55"/>
<path d="M60,146 C68,160 75,185 80,210 L70,214 C66,195 62,172 56,152 Z" fill="#f1cfc2"/>
<path d="M52,146 C58,160 64,185 68,212 L58,215 C56,195 53,170 49,153 Z" fill="#f6e7b6"/>
<path d="M51,153 C54,166 56,185 58,205 L53,207 C51,190 50,170 48,158 Z" fill="#c8dcee"/>
<path d="M64,210 C74,209 84,210 94,212 L92,219 C82,217 72,217 64,218 Z" fill="#cadff0"/>
<path d="M42,252 C60,248 80,246 102,244 L102,254 C86,256 72,260 64,264 C66,272 62,282 52,286 C46,280 43,266 42,252 Z" fill="#f6e9ba"/>
<path d="M44,250 C62,246 82,244 102,242 L101,249 C84,251 64,254 46,258 Z" fill="#cadff0"/>
<path d="M36,135 C26,137 17,147 13,160 C9,173 9,190 11,206 C14,226 20,246 28,265 C32,277 38,286 46,285 C53,284 55,273 53,262 C51,254 52,248 56,246 L64,244 L62,212 L52,210 C49,198 50,185 52,172 C54,160 56,150 53,143 C50,137 43,134 36,135 Z" fill="#f0cbbb"/>
<path d="M36,139 C27,141 19,150 16,165 C13,180 14,200 17,218 C20,236 25,252 31,266 C34,273 39,273 38,265 C34,249 30,233 28,215 C26,197 27,179 31,164 C34,153 40,146 45,143 Z" fill="#f8e2d8"/>
<path d="M35,155 C40,150 46,152 47,160 C48,175 45,195 43,208 C38,214 33,208 33,196 C32,182 32,165 35,155 Z" fill="#e9bcab"/>
<path d="M38,160 C41,175 40,195 37,206" stroke="#f6dbd0" stroke-width="2.5" fill="none"/>
<path d="M30,200 C34,192 44,194 52,204 C58,214 58,236 52,246 C46,252 36,246 32,234 C29,224 28,210 30,200 Z" fill="#eab8a7"/>
<path d="M34,211 C60,212 95,215 134,217 L134,238 C100,240 72,243 52,249 C42,242 36,228 34,211 Z" fill="#f0c9ba"/>
<path d="M52,229 C75,228 105,228 130,228" stroke="#f9e5dc" stroke-width="4" fill="none"/>
<path d="M131,204 C139,200 150,201 157,207 C165,214 167,228 163,239 C159,247 150,249 142,245 C135,240 131,228 131,214 Z" fill="#c07060"/>
<path d="M134,208 C140,204 150,205 156,211 C160,217 161,226 157,230 C151,227 146,222 140,220 C136,219 134,214 134,208 Z" fill="#e4c078"/>
<path d="M140,222 C146,224 150,230 148,236" stroke="#e8cd8a" stroke-width="3" fill="none"/>
<path d="M130,203 L132,241" stroke="#efe8e4" stroke-width="3.5"/>
<path d="M156,238 C164,246 172,256 178,264" stroke="#efc4b8" stroke-width="5" fill="none" stroke-linecap="round"/>
<path d="M166,215 C159,204 163,191 172,191 C181,191 183,202 178,211 M170,215 C168,206 170,198 174,198" stroke="#e6dccc" stroke-width="2.5" fill="none"/>
<path d="M176,216 C188,215 198,215 210,218 L208,223 C196,222 186,222 176,222 Z" fill="#f1dea8"/>
<ellipse cx="187" cy="245" rx="18" ry="14" fill="#efe9e2"/>
<path d="M175,245 C175,236 190,233 197,240 C201,247 195,254 186,254 C179,254 177,247 184,245 C188,243 192,247 188,249" stroke="#d8ccbe" stroke-width="1.8" fill="none"/>
</g>
<g stroke="#111" stroke-width="2" fill="none"><path d="M318,144.5 L318,88"/><path d="M318,144 L263,144"/><path d="M318,144 L341,122"/></g><g fill="#111"><path d="M318,77.3 L323.3,93 L318,90 L312.7,93 Z"/><path d="M253.3,144 L268,138.8 L265,144 L268,149.2 Z"/><path d="M349.3,114.7 L342.8,129 L340.6,123.8 L335.5,121.8 Z"/></g><path d="M246.8,230.5 L180,230.5" stroke="#2b5d92" stroke-width="5.5"/><path d="M165.6,230 L182,221 L182,239 Z" fill="#2b5d92"/><text x="285.8" y="66.2" font-size="21.5" font-weight="bold" fill="#151515" letter-spacing="0.6">Superior</text><text x="353.7" y="111.8" font-size="21.5" font-weight="bold" fill="#151515" letter-spacing="0.95">Lateral</text><text x="263.5" y="177.6" font-size="21.5" font-weight="bold" fill="#151515" letter-spacing="0.56">Anterior</text><text x="254" y="238" font-size="21.5" font-weight="bold" fill="#151515" letter-spacing="0.17">View</text><text x="456.4" y="54.6" font-size="21.5" font-weight="bold" fill="#151515" letter-spacing="0.33">Malleus</text><text x="568.8" y="54.6" font-size="21.5" font-weight="bold" fill="#151515" letter-spacing="0.3">Incus</text><text x="633.5" y="30.4" font-size="21.5" font-weight="bold" fill="#151515" letter-spacing="0.69">Epitympanic</text><text x="665.8" y="57.5" font-size="21.5" font-weight="bold" fill="#151515" letter-spacing="0.56">recess</text><text x="62.7" y="456.6" font-size="21.5" font-weight="bold" fill="#151515" letter-spacing="0.75">Pharyngotym-</text><text x="62.7" y="482" font-size="21.5" font-weight="bold" fill="#151515" letter-spacing="0.7">panic tube</text><text x="263.6" y="548" font-size="21.5" font-weight="bold" fill="#151515" letter-spacing="0.36">Tensor</text><text x="264.2" y="575" font-size="21.5" font-weight="bold" fill="#151515" letter-spacing="0.78">tympani</text><text x="263.2" y="602.1" font-size="21.5" font-weight="bold" fill="#151515" letter-spacing="0.42">muscle</text><text x="410.7" y="547.9" font-size="21.5" font-weight="bold" fill="#151515" letter-spacing="0.54">Tympanic</text><text x="408.7" y="575" font-size="21.5" font-weight="bold" fill="#151515" letter-spacing="1.06">membrane</text><text x="407.7" y="601.6" font-size="21.5" font-weight="bold" fill="#151515" letter-spacing="0.63">(medial view)</text><text x="577.7" y="548.3" font-size="21.5" font-weight="bold" fill="#151515" letter-spacing="1.04">Stapes</text><text x="695.5" y="548.3" font-size="21.5" font-weight="bold" fill="#151515" letter-spacing="0.65">Stapedius</text><text x="696.1" y="575" font-size="21.5" font-weight="bold" fill="#151515" letter-spacing="0.42">muscle</text><text x="535.8" y="639.1" font-size="15.3" fill="#3d4a6b">Copyright &#169; 2010 Pearson Education, Inc.</text>
</svg>
</body></html>
